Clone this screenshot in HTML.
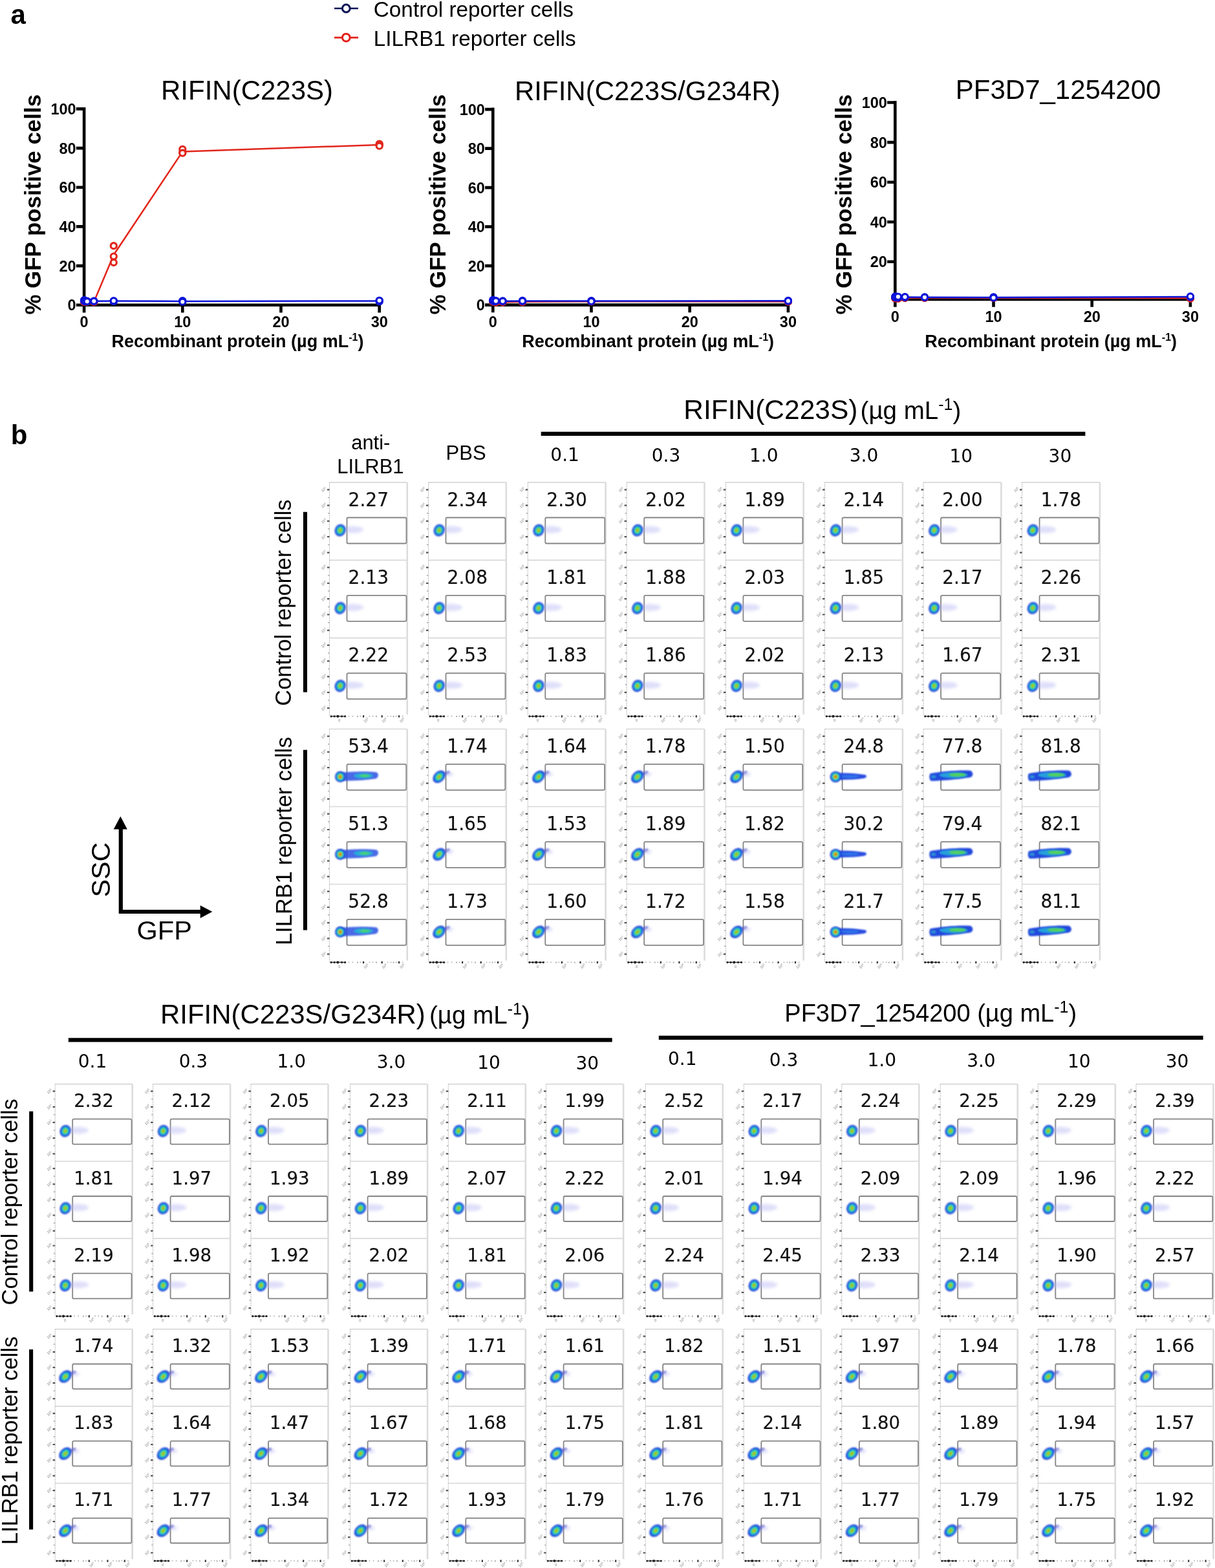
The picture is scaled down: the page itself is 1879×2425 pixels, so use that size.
<!DOCTYPE html>
<html><head><meta charset="utf-8"><title>Figure</title>
<style>html,body{margin:0;padding:0;background:#fff}svg{display:block}
.R{font-family:"Liberation Sans",Arial,sans-serif}
.B{font-family:"Liberation Sans",Arial,sans-serif;font-weight:bold}
.N{font-family:"DejaVu Sans",sans-serif;text-anchor:middle;fill:#111;stroke:#111;stroke-width:.2px}
.H{font-family:"DejaVu Sans",sans-serif;font-size:28px;text-anchor:middle}
.T{font-family:"Liberation Sans",Arial,sans-serif;font-size:5.6px;fill:#808080;text-anchor:end}</style></head>
<body><svg width="1879" height="2425" viewBox="0 0 1879 2425">
<rect width="1879" height="2425" fill="#fff"/>
<defs><filter id="f1" x="-50%" y="-50%" width="200%" height="200%"><feGaussianBlur stdDeviation="0.9"/></filter><filter id="f2" x="-50%" y="-50%" width="200%" height="200%"><feGaussianBlur stdDeviation="2.2"/></filter><filter id="f3" x="-30%" y="-80%" width="160%" height="260%"><feGaussianBlur stdDeviation="1.3"/></filter><g id="bLo"><ellipse cx="19" cy="-1" rx="17" ry="5.5" fill="#b8b8f4" opacity="0.45" filter="url(#f2)"/><g transform="rotate(22)" filter="url(#f1)"><ellipse rx="8.3" ry="9.6" fill="#1a36d0"/><ellipse rx="6.6" ry="7.7" fill="#1f7ae8"/><ellipse rx="5.1" ry="6.0" fill="#22c4c8"/><ellipse rx="3.7" ry="4.3" fill="#52e05a"/><ellipse rx="2.2" ry="2.5" fill="#a8d400"/><ellipse rx="1.0" ry="1.2" fill="#d06a00"/></g></g><g id="bLo2"><ellipse cx="12" cy="-6" rx="5" ry="2.6" fill="#3838c0" opacity="0.55" transform="rotate(-25 12 -6)" filter="url(#f1)"/><ellipse cx="15" cy="-4" rx="7" ry="3.5" fill="#b0b0f0" opacity="0.4" filter="url(#f2)"/><g transform="rotate(-45)" filter="url(#f1)"><ellipse rx="11.0" ry="8.0" fill="#1a36d0"/><ellipse rx="8.8" ry="6.4" fill="#1f7ae8"/><ellipse rx="6.8" ry="5.0" fill="#22c4c8"/><ellipse rx="5.0" ry="3.6" fill="#52e05a"/><ellipse rx="2.9" ry="2.1" fill="#a8d400"/><ellipse rx="1.3" ry="1.0" fill="#d06a00"/></g></g><g id="bMid"><path d="M2,-5.5 C14,-6.5 32,-5.5 46,-3 C49,-1 48,1.5 44,2.5 C30,4.5 14,5 2,4.5Z" fill="#2a4ee0" filter="url(#f3)"/><ellipse cx="22" cy="-0.5" rx="14" ry="2.4" fill="#2f86ee" opacity="0.7" filter="url(#f1)"/><g transform="rotate(0)" filter="url(#f1)"><ellipse rx="8.6" ry="8.6" fill="#1a36d0"/><ellipse rx="7.1" ry="7.1" fill="#1f7ae8"/><ellipse rx="5.7" ry="5.7" fill="#22c4c8"/><ellipse rx="4.3" ry="4.3" fill="#52e05a"/><ellipse rx="2.8" ry="2.8" fill="#e0b000"/><ellipse rx="1.5" ry="1.5" fill="#e04800"/></g></g><g id="bHalf"><path d="M0,-6.5 C16,-8 40,-9 56,-7 C60,-5 60,0.5 55,3 C40,5.5 16,6.5 0,6.5Z" fill="#2a50e2" opacity="0.85" filter="url(#f3)"/><ellipse cx="36" cy="-1.5" rx="15" ry="4" fill="#23b8d8" opacity="0.85" filter="url(#f1)"/><ellipse cx="38" cy="-1.5" rx="8" ry="2.2" fill="#52dc5a" opacity="0.8" filter="url(#f1)"/><g transform="rotate(0)" filter="url(#f1)"><ellipse rx="8.0" ry="8.5" fill="#1a36d0"/><ellipse rx="6.6" ry="7.0" fill="#1f7ae8"/><ellipse rx="5.3" ry="5.6" fill="#22c4c8"/><ellipse rx="4.0" ry="4.2" fill="#52e05a"/><ellipse rx="2.6" ry="2.7" fill="#e0b000"/><ellipse rx="1.4" ry="1.5" fill="#e04800"/></g></g><g id="bHi"><path d="M-6,-5 C10,-8 36,-10.5 56,-9.5 C61,-7 61,-1 56,1 C36,4 10,6.5 -5,6.5 C-8,4 -8,-2 -6,-5Z" fill="#2448dc" filter="url(#f3)"/><ellipse cx="30" cy="-2.5" rx="22" ry="4.6" fill="#25b0dc" opacity="0.85" filter="url(#f1)"/><ellipse cx="36" cy="-3" rx="13" ry="2.8" fill="#58d850" opacity="0.9" filter="url(#f1)"/><ellipse cx="-1" cy="0" rx="4" ry="2.5" fill="#30b0d0" opacity="0.7" filter="url(#f1)"/></g><g id="u1"><path d="M0,0H120.3M0,120.3H120.3M0,240.6H120.3" stroke="#d8d8d8" stroke-width="1.7"/><path d="M120.3,0V358.9" stroke="#dcdcdc" stroke-width="2.6"/><path d="M0,0V360.9" stroke="#a0a0a0" stroke-width="1" stroke-dasharray="1.4 1.4"/><path d="M-3.6,11.2h3.6M-3.6,35.6h3.6M-3.6,59.7h3.6M-3.6,84.1h3.6M-3.6,108.5h3.6M-3.6,131.5h3.6M-3.6,155.9h3.6M-3.6,180h3.6M-3.6,204.4h3.6M-3.6,228.8h3.6M-3.6,251.8h3.6M-3.6,276.2h3.6M-3.6,300.3h3.6M-3.6,324.7h3.6M-3.6,349.1h3.6" stroke="#555" stroke-width="2.2"/><path d="M-2.4,23.4h2.4M-2.4,47.7h2.4M-2.4,72h2.4M-2.4,96.3h2.4M-2.4,143.7h2.4M-2.4,168h2.4M-2.4,192.3h2.4M-2.4,216.6h2.4M-2.4,264h2.4M-2.4,288.3h2.4M-2.4,312.6h2.4M-2.4,336.9h2.4" stroke="#a8a8a8" stroke-width="1.5"/><g fill="none" stroke="#858585" stroke-width="1.8"><rect x="27" y="54.4" width="92" height="40" rx="2"/><rect x="27" y="174.7" width="92" height="40" rx="2"/><rect x="27" y="295" width="92" height="40" rx="2"/></g><path d="M2,361.7H25" stroke="#444" stroke-width="1.4"/><g fill="#222"><circle cx="2.6" cy="361.7" r="1.6"/><circle cx="7.6" cy="361.7" r="1.6"/><circle cx="12.9" cy="361.7" r="2.1"/><circle cx="19.1" cy="361.7" r="1.6"/><circle cx="24.1" cy="361.7" r="1.6"/></g><path d="M52.6,360.1v3.4M81.2,360.1v3.4M107.6,360.1v3.4" stroke="#333" stroke-width="2.2"/><path d="M43.6,360.9v2M72.5,360.9v2M99,360.9v2M30,360.9v1.3M36,360.9v1.3M48,360.9v1.3M62,360.9v1.3M67,360.9v1.3M90,360.9v1.3M95,360.9v1.3M103,360.9v1.3M113,360.9v1.3" stroke="#999" stroke-width="1.6"/></g><g id="u2"><path d="M0,0H120.3M0,120H120.3M0,240H120.3" stroke="#d8d8d8" stroke-width="1.7"/><path d="M120.3,0V358" stroke="#dcdcdc" stroke-width="2.6"/><path d="M0,0V360" stroke="#a0a0a0" stroke-width="1" stroke-dasharray="1.4 1.4"/><path d="M-3.6,11.2h3.6M-3.6,35.5h3.6M-3.6,59.6h3.6M-3.6,83.9h3.6M-3.6,108.2h3.6M-3.6,131.2h3.6M-3.6,155.5h3.6M-3.6,179.6h3.6M-3.6,203.9h3.6M-3.6,228.2h3.6M-3.6,251.2h3.6M-3.6,275.5h3.6M-3.6,299.6h3.6M-3.6,323.9h3.6M-3.6,348.2h3.6" stroke="#555" stroke-width="2.2"/><path d="M-2.4,23.3h2.4M-2.4,47.6h2.4M-2.4,71.8h2.4M-2.4,96.1h2.4M-2.4,143.3h2.4M-2.4,167.6h2.4M-2.4,191.8h2.4M-2.4,216.1h2.4M-2.4,263.3h2.4M-2.4,287.6h2.4M-2.4,311.8h2.4M-2.4,336.1h2.4" stroke="#a8a8a8" stroke-width="1.5"/><g fill="none" stroke="#858585" stroke-width="1.8"><rect x="27" y="54.3" width="91.8" height="40" rx="2"/><rect x="27" y="174.3" width="91.8" height="40" rx="2"/><rect x="27" y="294.3" width="91.8" height="40" rx="2"/></g><path d="M2,360.8H25" stroke="#444" stroke-width="1.4"/><g fill="#222"><circle cx="2.6" cy="360.8" r="1.6"/><circle cx="7.6" cy="360.8" r="1.6"/><circle cx="12.9" cy="360.8" r="2.1"/><circle cx="19.1" cy="360.8" r="1.6"/><circle cx="24.1" cy="360.8" r="1.6"/></g><path d="M52.6,359.2v3.4M81.2,359.2v3.4M107.6,359.2v3.4" stroke="#333" stroke-width="2.2"/><path d="M43.6,360v2M72.5,360v2M99,360v2M30,360v1.3M36,360v1.3M48,360v1.3M62,360v1.3M67,360v1.3M90,360v1.3M95,360v1.3M103,360v1.3M113,360v1.3" stroke="#999" stroke-width="1.6"/></g><g id="l1"><path d="M0,0H119.5M0,119.4H119.5M0,238.8H119.5" stroke="#d8d8d8" stroke-width="1.7"/><path d="M119.5,0V356.2" stroke="#dcdcdc" stroke-width="2.6"/><path d="M0,0V358.2" stroke="#a0a0a0" stroke-width="1" stroke-dasharray="1.4 1.4"/><path d="M-3.6,11.1h3.6M-3.6,35.3h3.6M-3.6,59.3h3.6M-3.6,83.5h3.6M-3.6,107.7h3.6M-3.6,130.5h3.6M-3.6,154.7h3.6M-3.6,178.7h3.6M-3.6,202.9h3.6M-3.6,227.1h3.6M-3.6,249.9h3.6M-3.6,274.1h3.6M-3.6,298.1h3.6M-3.6,322.3h3.6M-3.6,346.5h3.6" stroke="#555" stroke-width="2.2"/><path d="M-2.4,23.2h2.4M-2.4,47.3h2.4M-2.4,71.5h2.4M-2.4,95.6h2.4M-2.4,142.6h2.4M-2.4,166.7h2.4M-2.4,190.9h2.4M-2.4,215h2.4M-2.4,262h2.4M-2.4,286.1h2.4M-2.4,310.3h2.4M-2.4,334.4h2.4" stroke="#a8a8a8" stroke-width="1.5"/><g fill="none" stroke="#858585" stroke-width="1.8"><rect x="27" y="54" width="91.3" height="39" rx="2"/><rect x="27" y="173.4" width="91.3" height="39" rx="2"/><rect x="27" y="292.8" width="91.3" height="39" rx="2"/></g><path d="M2,359H25" stroke="#444" stroke-width="1.4"/><g fill="#222"><circle cx="2.6" cy="359" r="1.6"/><circle cx="7.6" cy="359" r="1.6"/><circle cx="12.9" cy="359" r="2.1"/><circle cx="19.1" cy="359" r="1.6"/><circle cx="24.1" cy="359" r="1.6"/></g><path d="M52.6,357.4v3.4M81.2,357.4v3.4M107.6,357.4v3.4" stroke="#333" stroke-width="2.2"/><path d="M43.6,358.2v2M72.5,358.2v2M99,358.2v2M30,358.2v1.3M36,358.2v1.3M48,358.2v1.3M62,358.2v1.3M67,358.2v1.3M90,358.2v1.3M95,358.2v1.3M103,358.2v1.3M113,358.2v1.3" stroke="#999" stroke-width="1.6"/></g><g id="l2"><path d="M0,0H119.5M0,119.2H119.5M0,238.4H119.5" stroke="#d8d8d8" stroke-width="1.7"/><path d="M119.5,0V355.6" stroke="#dcdcdc" stroke-width="2.6"/><path d="M0,0V357.6" stroke="#a0a0a0" stroke-width="1" stroke-dasharray="1.4 1.4"/><path d="M-3.6,11.1h3.6M-3.6,35.3h3.6M-3.6,59.2h3.6M-3.6,83.3h3.6M-3.6,107.5h3.6M-3.6,130.3h3.6M-3.6,154.5h3.6M-3.6,178.4h3.6M-3.6,202.5h3.6M-3.6,226.7h3.6M-3.6,249.5h3.6M-3.6,273.7h3.6M-3.6,297.6h3.6M-3.6,321.7h3.6M-3.6,345.9h3.6" stroke="#555" stroke-width="2.2"/><path d="M-2.4,23.2h2.4M-2.4,47.3h2.4M-2.4,71.3h2.4M-2.4,95.4h2.4M-2.4,142.4h2.4M-2.4,166.5h2.4M-2.4,190.5h2.4M-2.4,214.6h2.4M-2.4,261.6h2.4M-2.4,285.7h2.4M-2.4,309.7h2.4M-2.4,333.8h2.4" stroke="#a8a8a8" stroke-width="1.5"/><g fill="none" stroke="#858585" stroke-width="1.8"><rect x="27" y="53.9" width="91.2" height="38.6" rx="2"/><rect x="27" y="173.1" width="91.2" height="38.6" rx="2"/><rect x="27" y="292.3" width="91.2" height="38.6" rx="2"/></g><path d="M2,358.4H25" stroke="#444" stroke-width="1.4"/><g fill="#222"><circle cx="2.6" cy="358.4" r="1.6"/><circle cx="7.6" cy="358.4" r="1.6"/><circle cx="12.9" cy="358.4" r="2.1"/><circle cx="19.1" cy="358.4" r="1.6"/><circle cx="24.1" cy="358.4" r="1.6"/></g><path d="M52.6,356.8v3.4M81.2,356.8v3.4M107.6,356.8v3.4" stroke="#333" stroke-width="2.2"/><path d="M43.6,357.6v2M72.5,357.6v2M99,357.6v2M30,357.6v1.3M36,357.6v1.3M48,357.6v1.3M62,357.6v1.3M67,357.6v1.3M90,357.6v1.3M95,357.6v1.3M103,357.6v1.3M113,357.6v1.3" stroke="#999" stroke-width="1.6"/></g></defs>
<text class="B" x="16.5" y="36.6" font-size="42">a</text>
<text class="B" x="16.7" y="686.6" font-size="42">b</text>
<line x1="517" y1="13" x2="554" y2="13" stroke="#0d1456" stroke-width="2.6"/>
<circle cx="535.3" cy="13" r="5.9" fill="#fff" stroke="#0d1456" stroke-width="3"/>
<text class="R" x="577.8" y="25.8" font-size="33.3">Control reporter cells</text>
<line x1="517" y1="58.1" x2="554" y2="58.1" stroke="#e3201b" stroke-width="2.6"/>
<circle cx="535.3" cy="58.1" r="5.9" fill="#fff" stroke="#e3201b" stroke-width="3"/>
<text class="R" x="577.8" y="70.9" font-size="33.3">LILRB1 reporter cells</text>
<text class="R" x="249" y="154" font-size="42">RIFIN(C223S)</text>
<text class="B" transform="translate(62.6,486.6) rotate(-90)" font-size="34.9">% GFP positive cells</text>
<text class="B" x="172.6" y="537" font-size="27">Recombinant protein (µg mL<tspan font-size="16" dy="-10">-1</tspan><tspan dy="10">)</tspan></text>
<path d="M130.1,165.9V483.4M127.6,471.7H589M117.9,471.8H130.1M117.9,411.1H130.1M117.9,350.4H130.1M117.9,289.8H130.1M117.9,229.1H130.1M117.9,168.4H130.1M282.3,471.7V483.4M434.5,471.7V483.4M586.7,471.7V483.4" stroke="#000" stroke-width="4.6" fill="none"/>
<text class="B" x="117.7" y="480.2" font-size="23.5" text-anchor="end">0</text>
<text class="B" x="117.7" y="419.5" font-size="23.5" text-anchor="end">20</text>
<text class="B" x="117.7" y="358.8" font-size="23.5" text-anchor="end">40</text>
<text class="B" x="117.7" y="298.2" font-size="23.5" text-anchor="end">60</text>
<text class="B" x="117.7" y="237.5" font-size="23.5" text-anchor="end">80</text>
<text class="B" x="117.7" y="176.8" font-size="23.5" text-anchor="end">100</text>
<text class="B" x="130.1" y="505.6" font-size="23.5" text-anchor="middle">0</text>
<text class="B" x="282.3" y="505.6" font-size="23.5" text-anchor="middle">10</text>
<text class="B" x="434.5" y="505.6" font-size="23.5" text-anchor="middle">20</text>
<text class="B" x="586.7" y="505.6" font-size="23.5" text-anchor="middle">30</text>
<path d="M130.1,466.6L131.6,467L134.7,466.3L145.3,466.8L175.8,394.2L282.3,234.4L586.7,224" fill="none" stroke="#e2261c" stroke-width="2.5"/>
<g fill="#fff" stroke="#e2261c" stroke-width="3.1"><circle cx="130.1" cy="466.5" r="4.6"/><circle cx="130.1" cy="466.8" r="4.6"/><circle cx="130.1" cy="466.6" r="4.6"/><circle cx="131.6" cy="466.8" r="4.6"/><circle cx="131.6" cy="467.2" r="4.6"/><circle cx="131.6" cy="466.9" r="4.6"/><circle cx="134.7" cy="466.4" r="4.6"/><circle cx="134.7" cy="466.1" r="4.6"/><circle cx="134.7" cy="466.6" r="4.6"/><circle cx="145.3" cy="467.2" r="4.6"/><circle cx="145.3" cy="466.3" r="4.6"/><circle cx="145.3" cy="467" r="4.6"/><circle cx="175.8" cy="396.6" r="4.6"/><circle cx="175.8" cy="380.2" r="4.6"/><circle cx="175.8" cy="406" r="4.6"/><circle cx="282.3" cy="235.8" r="4.6"/><circle cx="282.3" cy="230.9" r="4.6"/><circle cx="282.3" cy="236.7" r="4.6"/><circle cx="586.7" cy="223.6" r="4.6"/><circle cx="586.7" cy="222.7" r="4.6"/><circle cx="586.7" cy="225.7" r="4.6"/></g>
<path d="M130.1,464.8L131.6,465.8L134.7,466L145.3,465.8L175.8,465.6L282.3,465.9L586.7,465.4" fill="none" stroke="#0c14d8" stroke-width="2.5"/>
<g fill="#fff" stroke="#0c14d8" stroke-width="3.1"><circle cx="130.1" cy="464.7" r="4.6"/><circle cx="130.1" cy="465.5" r="4.6"/><circle cx="130.1" cy="464.1" r="4.6"/><circle cx="131.6" cy="464.8" r="4.6"/><circle cx="131.6" cy="466.3" r="4.6"/><circle cx="131.6" cy="466.2" r="4.6"/><circle cx="134.7" cy="465.7" r="4.6"/><circle cx="134.7" cy="466.1" r="4.6"/><circle cx="134.7" cy="466.2" r="4.6"/><circle cx="145.3" cy="466.1" r="4.6"/><circle cx="145.3" cy="465.6" r="4.6"/><circle cx="145.3" cy="465.7" r="4.6"/><circle cx="175.8" cy="465.3" r="4.6"/><circle cx="175.8" cy="466.2" r="4.6"/><circle cx="175.8" cy="465.3" r="4.6"/><circle cx="282.3" cy="465.7" r="4.6"/><circle cx="282.3" cy="465.2" r="4.6"/><circle cx="282.3" cy="466.7" r="4.6"/><circle cx="586.7" cy="466.4" r="4.6"/><circle cx="586.7" cy="464.9" r="4.6"/><circle cx="586.7" cy="464.8" r="4.6"/></g>
<text class="R" x="796" y="154.8" font-size="42">RIFIN(C223S/G234R)</text>
<text class="B" transform="translate(689,486.6) rotate(-90)" font-size="34.9">% GFP positive cells</text>
<text class="B" x="807.3" y="537" font-size="27">Recombinant protein (µg mL<tspan font-size="16" dy="-10">-1</tspan><tspan dy="10">)</tspan></text>
<path d="M762.3,166.6V483.3M759.8,471.6H1221.2M750.1,471.6H762.3M750.1,411.1H762.3M750.1,350.6H762.3M750.1,290.1H762.3M750.1,229.6H762.3M750.1,169.1H762.3M914.5,471.6V483.3M1066.7,471.6V483.3M1218.9,471.6V483.3" stroke="#000" stroke-width="4.6" fill="none"/>
<text class="B" x="749.9" y="480" font-size="23.5" text-anchor="end">0</text>
<text class="B" x="749.9" y="419.5" font-size="23.5" text-anchor="end">20</text>
<text class="B" x="749.9" y="359" font-size="23.5" text-anchor="end">40</text>
<text class="B" x="749.9" y="298.5" font-size="23.5" text-anchor="end">60</text>
<text class="B" x="749.9" y="238" font-size="23.5" text-anchor="end">80</text>
<text class="B" x="749.9" y="177.5" font-size="23.5" text-anchor="end">100</text>
<text class="B" x="762.3" y="505.6" font-size="23.5" text-anchor="middle">0</text>
<text class="B" x="914.5" y="505.6" font-size="23.5" text-anchor="middle">10</text>
<text class="B" x="1066.7" y="505.6" font-size="23.5" text-anchor="middle">20</text>
<text class="B" x="1218.9" y="505.6" font-size="23.5" text-anchor="middle">30</text>
<path d="M762.3,466.4L763.8,466.3L766.9,466.8L777.5,467.2L808,466.8L914.5,466.2L1218.9,466.4" fill="none" stroke="#e2261c" stroke-width="2.5"/>
<g fill="#fff" stroke="#e2261c" stroke-width="3.1"><circle cx="762.3" cy="466.3" r="4.6"/><circle cx="762.3" cy="466.6" r="4.6"/><circle cx="762.3" cy="466.4" r="4.6"/><circle cx="763.8" cy="466.3" r="4.6"/><circle cx="763.8" cy="466.1" r="4.6"/><circle cx="763.8" cy="466.4" r="4.6"/><circle cx="766.9" cy="467.6" r="4.6"/><circle cx="766.9" cy="466.6" r="4.6"/><circle cx="766.9" cy="466.2" r="4.6"/><circle cx="777.5" cy="467" r="4.6"/><circle cx="777.5" cy="467.2" r="4.6"/><circle cx="777.5" cy="467.5" r="4.6"/><circle cx="808" cy="467.4" r="4.6"/><circle cx="808" cy="466.5" r="4.6"/><circle cx="808" cy="466.4" r="4.6"/><circle cx="914.5" cy="466.4" r="4.6"/><circle cx="914.5" cy="466.5" r="4.6"/><circle cx="914.5" cy="465.8" r="4.6"/><circle cx="1218.9" cy="466.7" r="4.6"/><circle cx="1218.9" cy="466.3" r="4.6"/><circle cx="1218.9" cy="466.2" r="4.6"/></g>
<path d="M762.3,464.6L763.8,465.2L766.9,465.5L777.5,465.7L808,465.4L914.5,465.6L1218.9,465.3" fill="none" stroke="#0c14d8" stroke-width="2.5"/>
<g fill="#fff" stroke="#0c14d8" stroke-width="3.1"><circle cx="762.3" cy="464.5" r="4.6"/><circle cx="762.3" cy="465.3" r="4.6"/><circle cx="762.3" cy="463.9" r="4.6"/><circle cx="763.8" cy="464.6" r="4.6"/><circle cx="763.8" cy="466.1" r="4.6"/><circle cx="763.8" cy="465" r="4.6"/><circle cx="766.9" cy="465.2" r="4.6"/><circle cx="766.9" cy="465.6" r="4.6"/><circle cx="766.9" cy="465.6" r="4.6"/><circle cx="777.5" cy="465.4" r="4.6"/><circle cx="777.5" cy="465.8" r="4.6"/><circle cx="777.5" cy="465.8" r="4.6"/><circle cx="808" cy="464.9" r="4.6"/><circle cx="808" cy="465.9" r="4.6"/><circle cx="808" cy="465.5" r="4.6"/><circle cx="914.5" cy="465.2" r="4.6"/><circle cx="914.5" cy="465.3" r="4.6"/><circle cx="914.5" cy="466.1" r="4.6"/><circle cx="1218.9" cy="465.6" r="4.6"/><circle cx="1218.9" cy="464.9" r="4.6"/><circle cx="1218.9" cy="465.4" r="4.6"/></g>
<text class="R" x="1477.8" y="153.4" font-size="42">PF3D7_1254200</text>
<text class="B" transform="translate(1317,486.6) rotate(-90)" font-size="34.9">% GFP positive cells</text>
<text class="B" x="1430.3" y="537.4" font-size="27">Recombinant protein (µg mL<tspan font-size="16" dy="-10">-1</tspan><tspan dy="10">)</tspan></text>
<path d="M1384.3,156V474.7M1381.8,463H1843.2M1372.1,404.8H1384.3M1372.1,343.2H1384.3M1372.1,281.7H1384.3M1372.1,220.1H1384.3M1372.1,158.5H1384.3M1536.5,463V474.7M1688.7,463V474.7M1840.9,463V474.7" stroke="#000" stroke-width="4.6" fill="none"/>
<text class="B" x="1371.9" y="413.2" font-size="23.5" text-anchor="end">20</text>
<text class="B" x="1371.9" y="351.6" font-size="23.5" text-anchor="end">40</text>
<text class="B" x="1371.9" y="290.1" font-size="23.5" text-anchor="end">60</text>
<text class="B" x="1371.9" y="228.5" font-size="23.5" text-anchor="end">80</text>
<text class="B" x="1371.9" y="166.9" font-size="23.5" text-anchor="end">100</text>
<text class="B" x="1384.3" y="497.6" font-size="23.5" text-anchor="middle">0</text>
<text class="B" x="1536.5" y="497.6" font-size="23.5" text-anchor="middle">10</text>
<text class="B" x="1688.7" y="497.6" font-size="23.5" text-anchor="middle">20</text>
<text class="B" x="1840.9" y="497.6" font-size="23.5" text-anchor="middle">30</text>
<path d="M1384.3,461.1L1385.8,460.9L1388.9,460.9L1399.5,460.7L1430,460.6L1536.5,460.8L1840.9,461.1" fill="none" stroke="#e2261c" stroke-width="2.5"/>
<g fill="#fff" stroke="#e2261c" stroke-width="3.1"><circle cx="1384.3" cy="461" r="4.6"/><circle cx="1384.3" cy="461.3" r="4.6"/><circle cx="1384.3" cy="461.1" r="4.6"/><circle cx="1385.8" cy="460.8" r="4.6"/><circle cx="1385.8" cy="460.8" r="4.6"/><circle cx="1385.8" cy="461" r="4.6"/><circle cx="1388.9" cy="461.8" r="4.6"/><circle cx="1388.9" cy="459.8" r="4.6"/><circle cx="1388.9" cy="461.1" r="4.6"/><circle cx="1399.5" cy="460.3" r="4.6"/><circle cx="1399.5" cy="460.9" r="4.6"/><circle cx="1399.5" cy="461" r="4.6"/><circle cx="1430" cy="460.4" r="4.6"/><circle cx="1430" cy="460.6" r="4.6"/><circle cx="1430" cy="460.9" r="4.6"/><circle cx="1536.5" cy="460.9" r="4.6"/><circle cx="1536.5" cy="460.4" r="4.6"/><circle cx="1536.5" cy="461" r="4.6"/><circle cx="1840.9" cy="461.3" r="4.6"/><circle cx="1840.9" cy="461.6" r="4.6"/><circle cx="1840.9" cy="460.5" r="4.6"/></g>
<path d="M1384.3,459.3L1385.8,459.5L1388.9,459.7L1399.5,459.6L1430,459.7L1536.5,460.1L1840.9,459" fill="none" stroke="#0c14d8" stroke-width="2.5"/>
<g fill="#fff" stroke="#0c14d8" stroke-width="3.1"><circle cx="1384.3" cy="459.2" r="4.6"/><circle cx="1384.3" cy="460" r="4.6"/><circle cx="1384.3" cy="458.6" r="4.6"/><circle cx="1385.8" cy="458.6" r="4.6"/><circle cx="1385.8" cy="460.2" r="4.6"/><circle cx="1385.8" cy="459.5" r="4.6"/><circle cx="1388.9" cy="459.7" r="4.6"/><circle cx="1388.9" cy="460.4" r="4.6"/><circle cx="1388.9" cy="458.9" r="4.6"/><circle cx="1399.5" cy="459.5" r="4.6"/><circle cx="1399.5" cy="460" r="4.6"/><circle cx="1399.5" cy="459.2" r="4.6"/><circle cx="1430" cy="459.5" r="4.6"/><circle cx="1430" cy="460" r="4.6"/><circle cx="1430" cy="459.8" r="4.6"/><circle cx="1536.5" cy="459.3" r="4.6"/><circle cx="1536.5" cy="460.4" r="4.6"/><circle cx="1536.5" cy="460.5" r="4.6"/><circle cx="1840.9" cy="459" r="4.6"/><circle cx="1840.9" cy="459.6" r="4.6"/><circle cx="1840.9" cy="458.5" r="4.6"/></g>
<use href="#u1" x="509.5" y="746.1"/>
<use href="#u1" x="662.5" y="746.1"/>
<use href="#u1" x="816.3" y="746.1"/>
<use href="#u1" x="969.2" y="746.1"/>
<use href="#u1" x="1122.4" y="746.1"/>
<use href="#u1" x="1275.6" y="746.1"/>
<use href="#u1" x="1428.1" y="746.1"/>
<use href="#u1" x="1580.6" y="746.1"/>
<use href="#bLo" x="526.1" y="820.1"/>
<use href="#bLo" x="526.1" y="940.4"/>
<use href="#bLo" x="526.1" y="1060.7"/>
<use href="#bLo" x="679.1" y="820.1"/>
<use href="#bLo" x="679.1" y="940.4"/>
<use href="#bLo" x="679.1" y="1060.7"/>
<use href="#bLo" x="832.9" y="820.1"/>
<use href="#bLo" x="832.9" y="940.4"/>
<use href="#bLo" x="832.9" y="1060.7"/>
<use href="#bLo" x="985.8" y="820.1"/>
<use href="#bLo" x="985.8" y="940.4"/>
<use href="#bLo" x="985.8" y="1060.7"/>
<use href="#bLo" x="1139" y="820.1"/>
<use href="#bLo" x="1139" y="940.4"/>
<use href="#bLo" x="1139" y="1060.7"/>
<use href="#bLo" x="1292.2" y="820.1"/>
<use href="#bLo" x="1292.2" y="940.4"/>
<use href="#bLo" x="1292.2" y="1060.7"/>
<use href="#bLo" x="1444.7" y="820.1"/>
<use href="#bLo" x="1444.7" y="940.4"/>
<use href="#bLo" x="1444.7" y="1060.7"/>
<use href="#bLo" x="1597.2" y="820.1"/>
<use href="#bLo" x="1597.2" y="940.4"/>
<use href="#bLo" x="1597.2" y="1060.7"/>
<text class="N" x="569.8" y="782.7" font-size="29.6" textLength="62.5" lengthAdjust="spacingAndGlyphs">2.27</text>
<text class="N" x="569.8" y="903" font-size="29.6" textLength="62.5" lengthAdjust="spacingAndGlyphs">2.13</text>
<text class="N" x="569.8" y="1023.3" font-size="29.6" textLength="62.5" lengthAdjust="spacingAndGlyphs">2.22</text>
<text class="N" x="722.8" y="782.7" font-size="29.6" textLength="62.5" lengthAdjust="spacingAndGlyphs">2.34</text>
<text class="N" x="722.8" y="903" font-size="29.6" textLength="62.5" lengthAdjust="spacingAndGlyphs">2.08</text>
<text class="N" x="722.8" y="1023.3" font-size="29.6" textLength="62.5" lengthAdjust="spacingAndGlyphs">2.53</text>
<text class="N" x="876.6" y="782.7" font-size="29.6" textLength="62.5" lengthAdjust="spacingAndGlyphs">2.30</text>
<text class="N" x="876.6" y="903" font-size="29.6" textLength="62.5" lengthAdjust="spacingAndGlyphs">1.81</text>
<text class="N" x="876.6" y="1023.3" font-size="29.6" textLength="62.5" lengthAdjust="spacingAndGlyphs">1.83</text>
<text class="N" x="1029.5" y="782.7" font-size="29.6" textLength="62.5" lengthAdjust="spacingAndGlyphs">2.02</text>
<text class="N" x="1029.5" y="903" font-size="29.6" textLength="62.5" lengthAdjust="spacingAndGlyphs">1.88</text>
<text class="N" x="1029.5" y="1023.3" font-size="29.6" textLength="62.5" lengthAdjust="spacingAndGlyphs">1.86</text>
<text class="N" x="1182.7" y="782.7" font-size="29.6" textLength="62.5" lengthAdjust="spacingAndGlyphs">1.89</text>
<text class="N" x="1182.7" y="903" font-size="29.6" textLength="62.5" lengthAdjust="spacingAndGlyphs">2.03</text>
<text class="N" x="1182.7" y="1023.3" font-size="29.6" textLength="62.5" lengthAdjust="spacingAndGlyphs">2.02</text>
<text class="N" x="1335.9" y="782.7" font-size="29.6" textLength="62.5" lengthAdjust="spacingAndGlyphs">2.14</text>
<text class="N" x="1335.9" y="903" font-size="29.6" textLength="62.5" lengthAdjust="spacingAndGlyphs">1.85</text>
<text class="N" x="1335.9" y="1023.3" font-size="29.6" textLength="62.5" lengthAdjust="spacingAndGlyphs">2.13</text>
<text class="N" x="1488.4" y="782.7" font-size="29.6" textLength="62.5" lengthAdjust="spacingAndGlyphs">2.00</text>
<text class="N" x="1488.4" y="903" font-size="29.6" textLength="62.5" lengthAdjust="spacingAndGlyphs">2.17</text>
<text class="N" x="1488.4" y="1023.3" font-size="29.6" textLength="62.5" lengthAdjust="spacingAndGlyphs">1.67</text>
<text class="N" x="1640.9" y="782.7" font-size="29.6" textLength="62.5" lengthAdjust="spacingAndGlyphs">1.78</text>
<text class="N" x="1640.9" y="903" font-size="29.6" textLength="62.5" lengthAdjust="spacingAndGlyphs">2.26</text>
<text class="N" x="1640.9" y="1023.3" font-size="29.6" textLength="62.5" lengthAdjust="spacingAndGlyphs">2.31</text>
<text class="T" transform="translate(505.2,756.1)rotate(-40)">10<tspan dy="-2" font-size="4">5</tspan></text>
<text class="T" transform="translate(505.2,780.5)rotate(-40)">10<tspan dy="-2" font-size="4">4</tspan></text>
<text class="T" transform="translate(505.2,804.6)rotate(-40)">10<tspan dy="-2" font-size="4">3</tspan></text>
<text class="T" transform="translate(505.2,829)rotate(-40)">10<tspan dy="-2" font-size="4">2</tspan></text>
<text class="T" transform="translate(505.2,853.4)rotate(-40)">10<tspan dy="-2" font-size="4">1</tspan></text>
<text class="T" transform="translate(505.2,876.4)rotate(-40)">10<tspan dy="-2" font-size="4">5</tspan></text>
<text class="T" transform="translate(505.2,900.8)rotate(-40)">10<tspan dy="-2" font-size="4">4</tspan></text>
<text class="T" transform="translate(505.2,924.9)rotate(-40)">10<tspan dy="-2" font-size="4">3</tspan></text>
<text class="T" transform="translate(505.2,949.3)rotate(-40)">10<tspan dy="-2" font-size="4">2</tspan></text>
<text class="T" transform="translate(505.2,973.7)rotate(-40)">10<tspan dy="-2" font-size="4">1</tspan></text>
<text class="T" transform="translate(505.2,996.7)rotate(-40)">10<tspan dy="-2" font-size="4">5</tspan></text>
<text class="T" transform="translate(505.2,1021.1)rotate(-40)">10<tspan dy="-2" font-size="4">4</tspan></text>
<text class="T" transform="translate(505.2,1045.2)rotate(-40)">10<tspan dy="-2" font-size="4">3</tspan></text>
<text class="T" transform="translate(505.2,1069.6)rotate(-40)">10<tspan dy="-2" font-size="4">2</tspan></text>
<text class="T" transform="translate(505.2,1094)rotate(-40)">10<tspan dy="-2" font-size="4">1</tspan></text>
<text class="T" x="526.3" y="1116">0</text>
<text class="T" transform="translate(570.8,1112.6)rotate(-40)">10<tspan dy="-2" font-size="4">3</tspan></text>
<text class="T" transform="translate(599.1,1112.6)rotate(-40)">10<tspan dy="-2" font-size="4">4</tspan></text>
<text class="T" transform="translate(626.4,1112.6)rotate(-40)">10<tspan dy="-2" font-size="4">5</tspan></text>
<text class="T" transform="translate(658.2,756.1)rotate(-40)">10<tspan dy="-2" font-size="4">5</tspan></text>
<text class="T" transform="translate(658.2,780.5)rotate(-40)">10<tspan dy="-2" font-size="4">4</tspan></text>
<text class="T" transform="translate(658.2,804.6)rotate(-40)">10<tspan dy="-2" font-size="4">3</tspan></text>
<text class="T" transform="translate(658.2,829)rotate(-40)">10<tspan dy="-2" font-size="4">2</tspan></text>
<text class="T" transform="translate(658.2,853.4)rotate(-40)">10<tspan dy="-2" font-size="4">1</tspan></text>
<text class="T" transform="translate(658.2,876.4)rotate(-40)">10<tspan dy="-2" font-size="4">5</tspan></text>
<text class="T" transform="translate(658.2,900.8)rotate(-40)">10<tspan dy="-2" font-size="4">4</tspan></text>
<text class="T" transform="translate(658.2,924.9)rotate(-40)">10<tspan dy="-2" font-size="4">3</tspan></text>
<text class="T" transform="translate(658.2,949.3)rotate(-40)">10<tspan dy="-2" font-size="4">2</tspan></text>
<text class="T" transform="translate(658.2,973.7)rotate(-40)">10<tspan dy="-2" font-size="4">1</tspan></text>
<text class="T" transform="translate(658.2,996.7)rotate(-40)">10<tspan dy="-2" font-size="4">5</tspan></text>
<text class="T" transform="translate(658.2,1021.1)rotate(-40)">10<tspan dy="-2" font-size="4">4</tspan></text>
<text class="T" transform="translate(658.2,1045.2)rotate(-40)">10<tspan dy="-2" font-size="4">3</tspan></text>
<text class="T" transform="translate(658.2,1069.6)rotate(-40)">10<tspan dy="-2" font-size="4">2</tspan></text>
<text class="T" transform="translate(658.2,1094)rotate(-40)">10<tspan dy="-2" font-size="4">1</tspan></text>
<text class="T" x="679.3" y="1116">0</text>
<text class="T" transform="translate(723.8,1112.6)rotate(-40)">10<tspan dy="-2" font-size="4">3</tspan></text>
<text class="T" transform="translate(752.1,1112.6)rotate(-40)">10<tspan dy="-2" font-size="4">4</tspan></text>
<text class="T" transform="translate(779.4,1112.6)rotate(-40)">10<tspan dy="-2" font-size="4">5</tspan></text>
<text class="T" transform="translate(812,756.1)rotate(-40)">10<tspan dy="-2" font-size="4">5</tspan></text>
<text class="T" transform="translate(812,780.5)rotate(-40)">10<tspan dy="-2" font-size="4">4</tspan></text>
<text class="T" transform="translate(812,804.6)rotate(-40)">10<tspan dy="-2" font-size="4">3</tspan></text>
<text class="T" transform="translate(812,829)rotate(-40)">10<tspan dy="-2" font-size="4">2</tspan></text>
<text class="T" transform="translate(812,853.4)rotate(-40)">10<tspan dy="-2" font-size="4">1</tspan></text>
<text class="T" transform="translate(812,876.4)rotate(-40)">10<tspan dy="-2" font-size="4">5</tspan></text>
<text class="T" transform="translate(812,900.8)rotate(-40)">10<tspan dy="-2" font-size="4">4</tspan></text>
<text class="T" transform="translate(812,924.9)rotate(-40)">10<tspan dy="-2" font-size="4">3</tspan></text>
<text class="T" transform="translate(812,949.3)rotate(-40)">10<tspan dy="-2" font-size="4">2</tspan></text>
<text class="T" transform="translate(812,973.7)rotate(-40)">10<tspan dy="-2" font-size="4">1</tspan></text>
<text class="T" transform="translate(812,996.7)rotate(-40)">10<tspan dy="-2" font-size="4">5</tspan></text>
<text class="T" transform="translate(812,1021.1)rotate(-40)">10<tspan dy="-2" font-size="4">4</tspan></text>
<text class="T" transform="translate(812,1045.2)rotate(-40)">10<tspan dy="-2" font-size="4">3</tspan></text>
<text class="T" transform="translate(812,1069.6)rotate(-40)">10<tspan dy="-2" font-size="4">2</tspan></text>
<text class="T" transform="translate(812,1094)rotate(-40)">10<tspan dy="-2" font-size="4">1</tspan></text>
<text class="T" x="833.1" y="1116">0</text>
<text class="T" transform="translate(877.6,1112.6)rotate(-40)">10<tspan dy="-2" font-size="4">3</tspan></text>
<text class="T" transform="translate(905.9,1112.6)rotate(-40)">10<tspan dy="-2" font-size="4">4</tspan></text>
<text class="T" transform="translate(933.2,1112.6)rotate(-40)">10<tspan dy="-2" font-size="4">5</tspan></text>
<text class="T" transform="translate(964.9,756.1)rotate(-40)">10<tspan dy="-2" font-size="4">5</tspan></text>
<text class="T" transform="translate(964.9,780.5)rotate(-40)">10<tspan dy="-2" font-size="4">4</tspan></text>
<text class="T" transform="translate(964.9,804.6)rotate(-40)">10<tspan dy="-2" font-size="4">3</tspan></text>
<text class="T" transform="translate(964.9,829)rotate(-40)">10<tspan dy="-2" font-size="4">2</tspan></text>
<text class="T" transform="translate(964.9,853.4)rotate(-40)">10<tspan dy="-2" font-size="4">1</tspan></text>
<text class="T" transform="translate(964.9,876.4)rotate(-40)">10<tspan dy="-2" font-size="4">5</tspan></text>
<text class="T" transform="translate(964.9,900.8)rotate(-40)">10<tspan dy="-2" font-size="4">4</tspan></text>
<text class="T" transform="translate(964.9,924.9)rotate(-40)">10<tspan dy="-2" font-size="4">3</tspan></text>
<text class="T" transform="translate(964.9,949.3)rotate(-40)">10<tspan dy="-2" font-size="4">2</tspan></text>
<text class="T" transform="translate(964.9,973.7)rotate(-40)">10<tspan dy="-2" font-size="4">1</tspan></text>
<text class="T" transform="translate(964.9,996.7)rotate(-40)">10<tspan dy="-2" font-size="4">5</tspan></text>
<text class="T" transform="translate(964.9,1021.1)rotate(-40)">10<tspan dy="-2" font-size="4">4</tspan></text>
<text class="T" transform="translate(964.9,1045.2)rotate(-40)">10<tspan dy="-2" font-size="4">3</tspan></text>
<text class="T" transform="translate(964.9,1069.6)rotate(-40)">10<tspan dy="-2" font-size="4">2</tspan></text>
<text class="T" transform="translate(964.9,1094)rotate(-40)">10<tspan dy="-2" font-size="4">1</tspan></text>
<text class="T" x="986" y="1116">0</text>
<text class="T" transform="translate(1030.5,1112.6)rotate(-40)">10<tspan dy="-2" font-size="4">3</tspan></text>
<text class="T" transform="translate(1058.8,1112.6)rotate(-40)">10<tspan dy="-2" font-size="4">4</tspan></text>
<text class="T" transform="translate(1086.1,1112.6)rotate(-40)">10<tspan dy="-2" font-size="4">5</tspan></text>
<text class="T" transform="translate(1118.1,756.1)rotate(-40)">10<tspan dy="-2" font-size="4">5</tspan></text>
<text class="T" transform="translate(1118.1,780.5)rotate(-40)">10<tspan dy="-2" font-size="4">4</tspan></text>
<text class="T" transform="translate(1118.1,804.6)rotate(-40)">10<tspan dy="-2" font-size="4">3</tspan></text>
<text class="T" transform="translate(1118.1,829)rotate(-40)">10<tspan dy="-2" font-size="4">2</tspan></text>
<text class="T" transform="translate(1118.1,853.4)rotate(-40)">10<tspan dy="-2" font-size="4">1</tspan></text>
<text class="T" transform="translate(1118.1,876.4)rotate(-40)">10<tspan dy="-2" font-size="4">5</tspan></text>
<text class="T" transform="translate(1118.1,900.8)rotate(-40)">10<tspan dy="-2" font-size="4">4</tspan></text>
<text class="T" transform="translate(1118.1,924.9)rotate(-40)">10<tspan dy="-2" font-size="4">3</tspan></text>
<text class="T" transform="translate(1118.1,949.3)rotate(-40)">10<tspan dy="-2" font-size="4">2</tspan></text>
<text class="T" transform="translate(1118.1,973.7)rotate(-40)">10<tspan dy="-2" font-size="4">1</tspan></text>
<text class="T" transform="translate(1118.1,996.7)rotate(-40)">10<tspan dy="-2" font-size="4">5</tspan></text>
<text class="T" transform="translate(1118.1,1021.1)rotate(-40)">10<tspan dy="-2" font-size="4">4</tspan></text>
<text class="T" transform="translate(1118.1,1045.2)rotate(-40)">10<tspan dy="-2" font-size="4">3</tspan></text>
<text class="T" transform="translate(1118.1,1069.6)rotate(-40)">10<tspan dy="-2" font-size="4">2</tspan></text>
<text class="T" transform="translate(1118.1,1094)rotate(-40)">10<tspan dy="-2" font-size="4">1</tspan></text>
<text class="T" x="1139.2" y="1116">0</text>
<text class="T" transform="translate(1183.7,1112.6)rotate(-40)">10<tspan dy="-2" font-size="4">3</tspan></text>
<text class="T" transform="translate(1212,1112.6)rotate(-40)">10<tspan dy="-2" font-size="4">4</tspan></text>
<text class="T" transform="translate(1239.3,1112.6)rotate(-40)">10<tspan dy="-2" font-size="4">5</tspan></text>
<text class="T" transform="translate(1271.3,756.1)rotate(-40)">10<tspan dy="-2" font-size="4">5</tspan></text>
<text class="T" transform="translate(1271.3,780.5)rotate(-40)">10<tspan dy="-2" font-size="4">4</tspan></text>
<text class="T" transform="translate(1271.3,804.6)rotate(-40)">10<tspan dy="-2" font-size="4">3</tspan></text>
<text class="T" transform="translate(1271.3,829)rotate(-40)">10<tspan dy="-2" font-size="4">2</tspan></text>
<text class="T" transform="translate(1271.3,853.4)rotate(-40)">10<tspan dy="-2" font-size="4">1</tspan></text>
<text class="T" transform="translate(1271.3,876.4)rotate(-40)">10<tspan dy="-2" font-size="4">5</tspan></text>
<text class="T" transform="translate(1271.3,900.8)rotate(-40)">10<tspan dy="-2" font-size="4">4</tspan></text>
<text class="T" transform="translate(1271.3,924.9)rotate(-40)">10<tspan dy="-2" font-size="4">3</tspan></text>
<text class="T" transform="translate(1271.3,949.3)rotate(-40)">10<tspan dy="-2" font-size="4">2</tspan></text>
<text class="T" transform="translate(1271.3,973.7)rotate(-40)">10<tspan dy="-2" font-size="4">1</tspan></text>
<text class="T" transform="translate(1271.3,996.7)rotate(-40)">10<tspan dy="-2" font-size="4">5</tspan></text>
<text class="T" transform="translate(1271.3,1021.1)rotate(-40)">10<tspan dy="-2" font-size="4">4</tspan></text>
<text class="T" transform="translate(1271.3,1045.2)rotate(-40)">10<tspan dy="-2" font-size="4">3</tspan></text>
<text class="T" transform="translate(1271.3,1069.6)rotate(-40)">10<tspan dy="-2" font-size="4">2</tspan></text>
<text class="T" transform="translate(1271.3,1094)rotate(-40)">10<tspan dy="-2" font-size="4">1</tspan></text>
<text class="T" x="1292.4" y="1116">0</text>
<text class="T" transform="translate(1336.9,1112.6)rotate(-40)">10<tspan dy="-2" font-size="4">3</tspan></text>
<text class="T" transform="translate(1365.2,1112.6)rotate(-40)">10<tspan dy="-2" font-size="4">4</tspan></text>
<text class="T" transform="translate(1392.5,1112.6)rotate(-40)">10<tspan dy="-2" font-size="4">5</tspan></text>
<text class="T" transform="translate(1423.8,756.1)rotate(-40)">10<tspan dy="-2" font-size="4">5</tspan></text>
<text class="T" transform="translate(1423.8,780.5)rotate(-40)">10<tspan dy="-2" font-size="4">4</tspan></text>
<text class="T" transform="translate(1423.8,804.6)rotate(-40)">10<tspan dy="-2" font-size="4">3</tspan></text>
<text class="T" transform="translate(1423.8,829)rotate(-40)">10<tspan dy="-2" font-size="4">2</tspan></text>
<text class="T" transform="translate(1423.8,853.4)rotate(-40)">10<tspan dy="-2" font-size="4">1</tspan></text>
<text class="T" transform="translate(1423.8,876.4)rotate(-40)">10<tspan dy="-2" font-size="4">5</tspan></text>
<text class="T" transform="translate(1423.8,900.8)rotate(-40)">10<tspan dy="-2" font-size="4">4</tspan></text>
<text class="T" transform="translate(1423.8,924.9)rotate(-40)">10<tspan dy="-2" font-size="4">3</tspan></text>
<text class="T" transform="translate(1423.8,949.3)rotate(-40)">10<tspan dy="-2" font-size="4">2</tspan></text>
<text class="T" transform="translate(1423.8,973.7)rotate(-40)">10<tspan dy="-2" font-size="4">1</tspan></text>
<text class="T" transform="translate(1423.8,996.7)rotate(-40)">10<tspan dy="-2" font-size="4">5</tspan></text>
<text class="T" transform="translate(1423.8,1021.1)rotate(-40)">10<tspan dy="-2" font-size="4">4</tspan></text>
<text class="T" transform="translate(1423.8,1045.2)rotate(-40)">10<tspan dy="-2" font-size="4">3</tspan></text>
<text class="T" transform="translate(1423.8,1069.6)rotate(-40)">10<tspan dy="-2" font-size="4">2</tspan></text>
<text class="T" transform="translate(1423.8,1094)rotate(-40)">10<tspan dy="-2" font-size="4">1</tspan></text>
<text class="T" x="1444.9" y="1116">0</text>
<text class="T" transform="translate(1489.4,1112.6)rotate(-40)">10<tspan dy="-2" font-size="4">3</tspan></text>
<text class="T" transform="translate(1517.7,1112.6)rotate(-40)">10<tspan dy="-2" font-size="4">4</tspan></text>
<text class="T" transform="translate(1545,1112.6)rotate(-40)">10<tspan dy="-2" font-size="4">5</tspan></text>
<text class="T" transform="translate(1576.3,756.1)rotate(-40)">10<tspan dy="-2" font-size="4">5</tspan></text>
<text class="T" transform="translate(1576.3,780.5)rotate(-40)">10<tspan dy="-2" font-size="4">4</tspan></text>
<text class="T" transform="translate(1576.3,804.6)rotate(-40)">10<tspan dy="-2" font-size="4">3</tspan></text>
<text class="T" transform="translate(1576.3,829)rotate(-40)">10<tspan dy="-2" font-size="4">2</tspan></text>
<text class="T" transform="translate(1576.3,853.4)rotate(-40)">10<tspan dy="-2" font-size="4">1</tspan></text>
<text class="T" transform="translate(1576.3,876.4)rotate(-40)">10<tspan dy="-2" font-size="4">5</tspan></text>
<text class="T" transform="translate(1576.3,900.8)rotate(-40)">10<tspan dy="-2" font-size="4">4</tspan></text>
<text class="T" transform="translate(1576.3,924.9)rotate(-40)">10<tspan dy="-2" font-size="4">3</tspan></text>
<text class="T" transform="translate(1576.3,949.3)rotate(-40)">10<tspan dy="-2" font-size="4">2</tspan></text>
<text class="T" transform="translate(1576.3,973.7)rotate(-40)">10<tspan dy="-2" font-size="4">1</tspan></text>
<text class="T" transform="translate(1576.3,996.7)rotate(-40)">10<tspan dy="-2" font-size="4">5</tspan></text>
<text class="T" transform="translate(1576.3,1021.1)rotate(-40)">10<tspan dy="-2" font-size="4">4</tspan></text>
<text class="T" transform="translate(1576.3,1045.2)rotate(-40)">10<tspan dy="-2" font-size="4">3</tspan></text>
<text class="T" transform="translate(1576.3,1069.6)rotate(-40)">10<tspan dy="-2" font-size="4">2</tspan></text>
<text class="T" transform="translate(1576.3,1094)rotate(-40)">10<tspan dy="-2" font-size="4">1</tspan></text>
<text class="T" x="1597.4" y="1116">0</text>
<text class="T" transform="translate(1641.9,1112.6)rotate(-40)">10<tspan dy="-2" font-size="4">3</tspan></text>
<text class="T" transform="translate(1670.2,1112.6)rotate(-40)">10<tspan dy="-2" font-size="4">4</tspan></text>
<text class="T" transform="translate(1697.5,1112.6)rotate(-40)">10<tspan dy="-2" font-size="4">5</tspan></text>
<use href="#u2" x="509.5" y="1127.5"/>
<use href="#u2" x="662.5" y="1127.5"/>
<use href="#u2" x="816.3" y="1127.5"/>
<use href="#u2" x="969.2" y="1127.5"/>
<use href="#u2" x="1122.4" y="1127.5"/>
<use href="#u2" x="1275.6" y="1127.5"/>
<use href="#u2" x="1428.1" y="1127.5"/>
<use href="#u2" x="1580.6" y="1127.5"/>
<use href="#bHalf" x="526.1" y="1201.3"/>
<use href="#bHalf" x="526.1" y="1321.3"/>
<use href="#bHalf" x="526.1" y="1441.3"/>
<use href="#bLo2" x="679.1" y="1201.3"/>
<use href="#bLo2" x="679.1" y="1321.3"/>
<use href="#bLo2" x="679.1" y="1441.3"/>
<use href="#bLo2" x="832.9" y="1201.3"/>
<use href="#bLo2" x="832.9" y="1321.3"/>
<use href="#bLo2" x="832.9" y="1441.3"/>
<use href="#bLo2" x="985.8" y="1201.3"/>
<use href="#bLo2" x="985.8" y="1321.3"/>
<use href="#bLo2" x="985.8" y="1441.3"/>
<use href="#bLo2" x="1139" y="1201.3"/>
<use href="#bLo2" x="1139" y="1321.3"/>
<use href="#bLo2" x="1139" y="1441.3"/>
<use href="#bMid" x="1292.2" y="1201.3"/>
<use href="#bMid" x="1292.2" y="1321.3"/>
<use href="#bMid" x="1292.2" y="1441.3"/>
<use href="#bHi" x="1444.7" y="1201.3"/>
<use href="#bHi" x="1444.7" y="1321.3"/>
<use href="#bHi" x="1444.7" y="1441.3"/>
<use href="#bHi" x="1597.2" y="1201.3"/>
<use href="#bHi" x="1597.2" y="1321.3"/>
<use href="#bHi" x="1597.2" y="1441.3"/>
<text class="N" x="569.6" y="1164" font-size="29.6" textLength="62.5" lengthAdjust="spacingAndGlyphs">53.4</text>
<text class="N" x="569.6" y="1284" font-size="29.6" textLength="62.5" lengthAdjust="spacingAndGlyphs">51.3</text>
<text class="N" x="569.6" y="1404" font-size="29.6" textLength="62.5" lengthAdjust="spacingAndGlyphs">52.8</text>
<text class="N" x="722.6" y="1164" font-size="29.6" textLength="62.5" lengthAdjust="spacingAndGlyphs">1.74</text>
<text class="N" x="722.6" y="1284" font-size="29.6" textLength="62.5" lengthAdjust="spacingAndGlyphs">1.65</text>
<text class="N" x="722.6" y="1404" font-size="29.6" textLength="62.5" lengthAdjust="spacingAndGlyphs">1.73</text>
<text class="N" x="876.4" y="1164" font-size="29.6" textLength="62.5" lengthAdjust="spacingAndGlyphs">1.64</text>
<text class="N" x="876.4" y="1284" font-size="29.6" textLength="62.5" lengthAdjust="spacingAndGlyphs">1.53</text>
<text class="N" x="876.4" y="1404" font-size="29.6" textLength="62.5" lengthAdjust="spacingAndGlyphs">1.60</text>
<text class="N" x="1029.3" y="1164" font-size="29.6" textLength="62.5" lengthAdjust="spacingAndGlyphs">1.78</text>
<text class="N" x="1029.3" y="1284" font-size="29.6" textLength="62.5" lengthAdjust="spacingAndGlyphs">1.89</text>
<text class="N" x="1029.3" y="1404" font-size="29.6" textLength="62.5" lengthAdjust="spacingAndGlyphs">1.72</text>
<text class="N" x="1182.5" y="1164" font-size="29.6" textLength="62.5" lengthAdjust="spacingAndGlyphs">1.50</text>
<text class="N" x="1182.5" y="1284" font-size="29.6" textLength="62.5" lengthAdjust="spacingAndGlyphs">1.82</text>
<text class="N" x="1182.5" y="1404" font-size="29.6" textLength="62.5" lengthAdjust="spacingAndGlyphs">1.58</text>
<text class="N" x="1335.7" y="1164" font-size="29.6" textLength="62.5" lengthAdjust="spacingAndGlyphs">24.8</text>
<text class="N" x="1335.7" y="1284" font-size="29.6" textLength="62.5" lengthAdjust="spacingAndGlyphs">30.2</text>
<text class="N" x="1335.7" y="1404" font-size="29.6" textLength="62.5" lengthAdjust="spacingAndGlyphs">21.7</text>
<text class="N" x="1488.2" y="1164" font-size="29.6" textLength="62.5" lengthAdjust="spacingAndGlyphs">77.8</text>
<text class="N" x="1488.2" y="1284" font-size="29.6" textLength="62.5" lengthAdjust="spacingAndGlyphs">79.4</text>
<text class="N" x="1488.2" y="1404" font-size="29.6" textLength="62.5" lengthAdjust="spacingAndGlyphs">77.5</text>
<text class="N" x="1640.7" y="1164" font-size="29.6" textLength="62.5" lengthAdjust="spacingAndGlyphs">81.8</text>
<text class="N" x="1640.7" y="1284" font-size="29.6" textLength="62.5" lengthAdjust="spacingAndGlyphs">82.1</text>
<text class="N" x="1640.7" y="1404" font-size="29.6" textLength="62.5" lengthAdjust="spacingAndGlyphs">81.1</text>
<text class="T" transform="translate(505.2,1137.5)rotate(-40)">10<tspan dy="-2" font-size="4">5</tspan></text>
<text class="T" transform="translate(505.2,1161.8)rotate(-40)">10<tspan dy="-2" font-size="4">4</tspan></text>
<text class="T" transform="translate(505.2,1185.9)rotate(-40)">10<tspan dy="-2" font-size="4">3</tspan></text>
<text class="T" transform="translate(505.2,1210.2)rotate(-40)">10<tspan dy="-2" font-size="4">2</tspan></text>
<text class="T" transform="translate(505.2,1234.5)rotate(-40)">10<tspan dy="-2" font-size="4">1</tspan></text>
<text class="T" transform="translate(505.2,1257.5)rotate(-40)">10<tspan dy="-2" font-size="4">5</tspan></text>
<text class="T" transform="translate(505.2,1281.8)rotate(-40)">10<tspan dy="-2" font-size="4">4</tspan></text>
<text class="T" transform="translate(505.2,1305.9)rotate(-40)">10<tspan dy="-2" font-size="4">3</tspan></text>
<text class="T" transform="translate(505.2,1330.2)rotate(-40)">10<tspan dy="-2" font-size="4">2</tspan></text>
<text class="T" transform="translate(505.2,1354.5)rotate(-40)">10<tspan dy="-2" font-size="4">1</tspan></text>
<text class="T" transform="translate(505.2,1377.5)rotate(-40)">10<tspan dy="-2" font-size="4">5</tspan></text>
<text class="T" transform="translate(505.2,1401.8)rotate(-40)">10<tspan dy="-2" font-size="4">4</tspan></text>
<text class="T" transform="translate(505.2,1425.9)rotate(-40)">10<tspan dy="-2" font-size="4">3</tspan></text>
<text class="T" transform="translate(505.2,1450.2)rotate(-40)">10<tspan dy="-2" font-size="4">2</tspan></text>
<text class="T" transform="translate(505.2,1474.5)rotate(-40)">10<tspan dy="-2" font-size="4">1</tspan></text>
<text class="T" x="526.3" y="1496.5">0</text>
<text class="T" transform="translate(570.8,1493.1)rotate(-40)">10<tspan dy="-2" font-size="4">3</tspan></text>
<text class="T" transform="translate(599.1,1493.1)rotate(-40)">10<tspan dy="-2" font-size="4">4</tspan></text>
<text class="T" transform="translate(626.4,1493.1)rotate(-40)">10<tspan dy="-2" font-size="4">5</tspan></text>
<text class="T" transform="translate(658.2,1137.5)rotate(-40)">10<tspan dy="-2" font-size="4">5</tspan></text>
<text class="T" transform="translate(658.2,1161.8)rotate(-40)">10<tspan dy="-2" font-size="4">4</tspan></text>
<text class="T" transform="translate(658.2,1185.9)rotate(-40)">10<tspan dy="-2" font-size="4">3</tspan></text>
<text class="T" transform="translate(658.2,1210.2)rotate(-40)">10<tspan dy="-2" font-size="4">2</tspan></text>
<text class="T" transform="translate(658.2,1234.5)rotate(-40)">10<tspan dy="-2" font-size="4">1</tspan></text>
<text class="T" transform="translate(658.2,1257.5)rotate(-40)">10<tspan dy="-2" font-size="4">5</tspan></text>
<text class="T" transform="translate(658.2,1281.8)rotate(-40)">10<tspan dy="-2" font-size="4">4</tspan></text>
<text class="T" transform="translate(658.2,1305.9)rotate(-40)">10<tspan dy="-2" font-size="4">3</tspan></text>
<text class="T" transform="translate(658.2,1330.2)rotate(-40)">10<tspan dy="-2" font-size="4">2</tspan></text>
<text class="T" transform="translate(658.2,1354.5)rotate(-40)">10<tspan dy="-2" font-size="4">1</tspan></text>
<text class="T" transform="translate(658.2,1377.5)rotate(-40)">10<tspan dy="-2" font-size="4">5</tspan></text>
<text class="T" transform="translate(658.2,1401.8)rotate(-40)">10<tspan dy="-2" font-size="4">4</tspan></text>
<text class="T" transform="translate(658.2,1425.9)rotate(-40)">10<tspan dy="-2" font-size="4">3</tspan></text>
<text class="T" transform="translate(658.2,1450.2)rotate(-40)">10<tspan dy="-2" font-size="4">2</tspan></text>
<text class="T" transform="translate(658.2,1474.5)rotate(-40)">10<tspan dy="-2" font-size="4">1</tspan></text>
<text class="T" x="679.3" y="1496.5">0</text>
<text class="T" transform="translate(723.8,1493.1)rotate(-40)">10<tspan dy="-2" font-size="4">3</tspan></text>
<text class="T" transform="translate(752.1,1493.1)rotate(-40)">10<tspan dy="-2" font-size="4">4</tspan></text>
<text class="T" transform="translate(779.4,1493.1)rotate(-40)">10<tspan dy="-2" font-size="4">5</tspan></text>
<text class="T" transform="translate(812,1137.5)rotate(-40)">10<tspan dy="-2" font-size="4">5</tspan></text>
<text class="T" transform="translate(812,1161.8)rotate(-40)">10<tspan dy="-2" font-size="4">4</tspan></text>
<text class="T" transform="translate(812,1185.9)rotate(-40)">10<tspan dy="-2" font-size="4">3</tspan></text>
<text class="T" transform="translate(812,1210.2)rotate(-40)">10<tspan dy="-2" font-size="4">2</tspan></text>
<text class="T" transform="translate(812,1234.5)rotate(-40)">10<tspan dy="-2" font-size="4">1</tspan></text>
<text class="T" transform="translate(812,1257.5)rotate(-40)">10<tspan dy="-2" font-size="4">5</tspan></text>
<text class="T" transform="translate(812,1281.8)rotate(-40)">10<tspan dy="-2" font-size="4">4</tspan></text>
<text class="T" transform="translate(812,1305.9)rotate(-40)">10<tspan dy="-2" font-size="4">3</tspan></text>
<text class="T" transform="translate(812,1330.2)rotate(-40)">10<tspan dy="-2" font-size="4">2</tspan></text>
<text class="T" transform="translate(812,1354.5)rotate(-40)">10<tspan dy="-2" font-size="4">1</tspan></text>
<text class="T" transform="translate(812,1377.5)rotate(-40)">10<tspan dy="-2" font-size="4">5</tspan></text>
<text class="T" transform="translate(812,1401.8)rotate(-40)">10<tspan dy="-2" font-size="4">4</tspan></text>
<text class="T" transform="translate(812,1425.9)rotate(-40)">10<tspan dy="-2" font-size="4">3</tspan></text>
<text class="T" transform="translate(812,1450.2)rotate(-40)">10<tspan dy="-2" font-size="4">2</tspan></text>
<text class="T" transform="translate(812,1474.5)rotate(-40)">10<tspan dy="-2" font-size="4">1</tspan></text>
<text class="T" x="833.1" y="1496.5">0</text>
<text class="T" transform="translate(877.6,1493.1)rotate(-40)">10<tspan dy="-2" font-size="4">3</tspan></text>
<text class="T" transform="translate(905.9,1493.1)rotate(-40)">10<tspan dy="-2" font-size="4">4</tspan></text>
<text class="T" transform="translate(933.2,1493.1)rotate(-40)">10<tspan dy="-2" font-size="4">5</tspan></text>
<text class="T" transform="translate(964.9,1137.5)rotate(-40)">10<tspan dy="-2" font-size="4">5</tspan></text>
<text class="T" transform="translate(964.9,1161.8)rotate(-40)">10<tspan dy="-2" font-size="4">4</tspan></text>
<text class="T" transform="translate(964.9,1185.9)rotate(-40)">10<tspan dy="-2" font-size="4">3</tspan></text>
<text class="T" transform="translate(964.9,1210.2)rotate(-40)">10<tspan dy="-2" font-size="4">2</tspan></text>
<text class="T" transform="translate(964.9,1234.5)rotate(-40)">10<tspan dy="-2" font-size="4">1</tspan></text>
<text class="T" transform="translate(964.9,1257.5)rotate(-40)">10<tspan dy="-2" font-size="4">5</tspan></text>
<text class="T" transform="translate(964.9,1281.8)rotate(-40)">10<tspan dy="-2" font-size="4">4</tspan></text>
<text class="T" transform="translate(964.9,1305.9)rotate(-40)">10<tspan dy="-2" font-size="4">3</tspan></text>
<text class="T" transform="translate(964.9,1330.2)rotate(-40)">10<tspan dy="-2" font-size="4">2</tspan></text>
<text class="T" transform="translate(964.9,1354.5)rotate(-40)">10<tspan dy="-2" font-size="4">1</tspan></text>
<text class="T" transform="translate(964.9,1377.5)rotate(-40)">10<tspan dy="-2" font-size="4">5</tspan></text>
<text class="T" transform="translate(964.9,1401.8)rotate(-40)">10<tspan dy="-2" font-size="4">4</tspan></text>
<text class="T" transform="translate(964.9,1425.9)rotate(-40)">10<tspan dy="-2" font-size="4">3</tspan></text>
<text class="T" transform="translate(964.9,1450.2)rotate(-40)">10<tspan dy="-2" font-size="4">2</tspan></text>
<text class="T" transform="translate(964.9,1474.5)rotate(-40)">10<tspan dy="-2" font-size="4">1</tspan></text>
<text class="T" x="986" y="1496.5">0</text>
<text class="T" transform="translate(1030.5,1493.1)rotate(-40)">10<tspan dy="-2" font-size="4">3</tspan></text>
<text class="T" transform="translate(1058.8,1493.1)rotate(-40)">10<tspan dy="-2" font-size="4">4</tspan></text>
<text class="T" transform="translate(1086.1,1493.1)rotate(-40)">10<tspan dy="-2" font-size="4">5</tspan></text>
<text class="T" transform="translate(1118.1,1137.5)rotate(-40)">10<tspan dy="-2" font-size="4">5</tspan></text>
<text class="T" transform="translate(1118.1,1161.8)rotate(-40)">10<tspan dy="-2" font-size="4">4</tspan></text>
<text class="T" transform="translate(1118.1,1185.9)rotate(-40)">10<tspan dy="-2" font-size="4">3</tspan></text>
<text class="T" transform="translate(1118.1,1210.2)rotate(-40)">10<tspan dy="-2" font-size="4">2</tspan></text>
<text class="T" transform="translate(1118.1,1234.5)rotate(-40)">10<tspan dy="-2" font-size="4">1</tspan></text>
<text class="T" transform="translate(1118.1,1257.5)rotate(-40)">10<tspan dy="-2" font-size="4">5</tspan></text>
<text class="T" transform="translate(1118.1,1281.8)rotate(-40)">10<tspan dy="-2" font-size="4">4</tspan></text>
<text class="T" transform="translate(1118.1,1305.9)rotate(-40)">10<tspan dy="-2" font-size="4">3</tspan></text>
<text class="T" transform="translate(1118.1,1330.2)rotate(-40)">10<tspan dy="-2" font-size="4">2</tspan></text>
<text class="T" transform="translate(1118.1,1354.5)rotate(-40)">10<tspan dy="-2" font-size="4">1</tspan></text>
<text class="T" transform="translate(1118.1,1377.5)rotate(-40)">10<tspan dy="-2" font-size="4">5</tspan></text>
<text class="T" transform="translate(1118.1,1401.8)rotate(-40)">10<tspan dy="-2" font-size="4">4</tspan></text>
<text class="T" transform="translate(1118.1,1425.9)rotate(-40)">10<tspan dy="-2" font-size="4">3</tspan></text>
<text class="T" transform="translate(1118.1,1450.2)rotate(-40)">10<tspan dy="-2" font-size="4">2</tspan></text>
<text class="T" transform="translate(1118.1,1474.5)rotate(-40)">10<tspan dy="-2" font-size="4">1</tspan></text>
<text class="T" x="1139.2" y="1496.5">0</text>
<text class="T" transform="translate(1183.7,1493.1)rotate(-40)">10<tspan dy="-2" font-size="4">3</tspan></text>
<text class="T" transform="translate(1212,1493.1)rotate(-40)">10<tspan dy="-2" font-size="4">4</tspan></text>
<text class="T" transform="translate(1239.3,1493.1)rotate(-40)">10<tspan dy="-2" font-size="4">5</tspan></text>
<text class="T" transform="translate(1271.3,1137.5)rotate(-40)">10<tspan dy="-2" font-size="4">5</tspan></text>
<text class="T" transform="translate(1271.3,1161.8)rotate(-40)">10<tspan dy="-2" font-size="4">4</tspan></text>
<text class="T" transform="translate(1271.3,1185.9)rotate(-40)">10<tspan dy="-2" font-size="4">3</tspan></text>
<text class="T" transform="translate(1271.3,1210.2)rotate(-40)">10<tspan dy="-2" font-size="4">2</tspan></text>
<text class="T" transform="translate(1271.3,1234.5)rotate(-40)">10<tspan dy="-2" font-size="4">1</tspan></text>
<text class="T" transform="translate(1271.3,1257.5)rotate(-40)">10<tspan dy="-2" font-size="4">5</tspan></text>
<text class="T" transform="translate(1271.3,1281.8)rotate(-40)">10<tspan dy="-2" font-size="4">4</tspan></text>
<text class="T" transform="translate(1271.3,1305.9)rotate(-40)">10<tspan dy="-2" font-size="4">3</tspan></text>
<text class="T" transform="translate(1271.3,1330.2)rotate(-40)">10<tspan dy="-2" font-size="4">2</tspan></text>
<text class="T" transform="translate(1271.3,1354.5)rotate(-40)">10<tspan dy="-2" font-size="4">1</tspan></text>
<text class="T" transform="translate(1271.3,1377.5)rotate(-40)">10<tspan dy="-2" font-size="4">5</tspan></text>
<text class="T" transform="translate(1271.3,1401.8)rotate(-40)">10<tspan dy="-2" font-size="4">4</tspan></text>
<text class="T" transform="translate(1271.3,1425.9)rotate(-40)">10<tspan dy="-2" font-size="4">3</tspan></text>
<text class="T" transform="translate(1271.3,1450.2)rotate(-40)">10<tspan dy="-2" font-size="4">2</tspan></text>
<text class="T" transform="translate(1271.3,1474.5)rotate(-40)">10<tspan dy="-2" font-size="4">1</tspan></text>
<text class="T" x="1292.4" y="1496.5">0</text>
<text class="T" transform="translate(1336.9,1493.1)rotate(-40)">10<tspan dy="-2" font-size="4">3</tspan></text>
<text class="T" transform="translate(1365.2,1493.1)rotate(-40)">10<tspan dy="-2" font-size="4">4</tspan></text>
<text class="T" transform="translate(1392.5,1493.1)rotate(-40)">10<tspan dy="-2" font-size="4">5</tspan></text>
<text class="T" transform="translate(1423.8,1137.5)rotate(-40)">10<tspan dy="-2" font-size="4">5</tspan></text>
<text class="T" transform="translate(1423.8,1161.8)rotate(-40)">10<tspan dy="-2" font-size="4">4</tspan></text>
<text class="T" transform="translate(1423.8,1185.9)rotate(-40)">10<tspan dy="-2" font-size="4">3</tspan></text>
<text class="T" transform="translate(1423.8,1210.2)rotate(-40)">10<tspan dy="-2" font-size="4">2</tspan></text>
<text class="T" transform="translate(1423.8,1234.5)rotate(-40)">10<tspan dy="-2" font-size="4">1</tspan></text>
<text class="T" transform="translate(1423.8,1257.5)rotate(-40)">10<tspan dy="-2" font-size="4">5</tspan></text>
<text class="T" transform="translate(1423.8,1281.8)rotate(-40)">10<tspan dy="-2" font-size="4">4</tspan></text>
<text class="T" transform="translate(1423.8,1305.9)rotate(-40)">10<tspan dy="-2" font-size="4">3</tspan></text>
<text class="T" transform="translate(1423.8,1330.2)rotate(-40)">10<tspan dy="-2" font-size="4">2</tspan></text>
<text class="T" transform="translate(1423.8,1354.5)rotate(-40)">10<tspan dy="-2" font-size="4">1</tspan></text>
<text class="T" transform="translate(1423.8,1377.5)rotate(-40)">10<tspan dy="-2" font-size="4">5</tspan></text>
<text class="T" transform="translate(1423.8,1401.8)rotate(-40)">10<tspan dy="-2" font-size="4">4</tspan></text>
<text class="T" transform="translate(1423.8,1425.9)rotate(-40)">10<tspan dy="-2" font-size="4">3</tspan></text>
<text class="T" transform="translate(1423.8,1450.2)rotate(-40)">10<tspan dy="-2" font-size="4">2</tspan></text>
<text class="T" transform="translate(1423.8,1474.5)rotate(-40)">10<tspan dy="-2" font-size="4">1</tspan></text>
<text class="T" x="1444.9" y="1496.5">0</text>
<text class="T" transform="translate(1489.4,1493.1)rotate(-40)">10<tspan dy="-2" font-size="4">3</tspan></text>
<text class="T" transform="translate(1517.7,1493.1)rotate(-40)">10<tspan dy="-2" font-size="4">4</tspan></text>
<text class="T" transform="translate(1545,1493.1)rotate(-40)">10<tspan dy="-2" font-size="4">5</tspan></text>
<text class="T" transform="translate(1576.3,1137.5)rotate(-40)">10<tspan dy="-2" font-size="4">5</tspan></text>
<text class="T" transform="translate(1576.3,1161.8)rotate(-40)">10<tspan dy="-2" font-size="4">4</tspan></text>
<text class="T" transform="translate(1576.3,1185.9)rotate(-40)">10<tspan dy="-2" font-size="4">3</tspan></text>
<text class="T" transform="translate(1576.3,1210.2)rotate(-40)">10<tspan dy="-2" font-size="4">2</tspan></text>
<text class="T" transform="translate(1576.3,1234.5)rotate(-40)">10<tspan dy="-2" font-size="4">1</tspan></text>
<text class="T" transform="translate(1576.3,1257.5)rotate(-40)">10<tspan dy="-2" font-size="4">5</tspan></text>
<text class="T" transform="translate(1576.3,1281.8)rotate(-40)">10<tspan dy="-2" font-size="4">4</tspan></text>
<text class="T" transform="translate(1576.3,1305.9)rotate(-40)">10<tspan dy="-2" font-size="4">3</tspan></text>
<text class="T" transform="translate(1576.3,1330.2)rotate(-40)">10<tspan dy="-2" font-size="4">2</tspan></text>
<text class="T" transform="translate(1576.3,1354.5)rotate(-40)">10<tspan dy="-2" font-size="4">1</tspan></text>
<text class="T" transform="translate(1576.3,1377.5)rotate(-40)">10<tspan dy="-2" font-size="4">5</tspan></text>
<text class="T" transform="translate(1576.3,1401.8)rotate(-40)">10<tspan dy="-2" font-size="4">4</tspan></text>
<text class="T" transform="translate(1576.3,1425.9)rotate(-40)">10<tspan dy="-2" font-size="4">3</tspan></text>
<text class="T" transform="translate(1576.3,1450.2)rotate(-40)">10<tspan dy="-2" font-size="4">2</tspan></text>
<text class="T" transform="translate(1576.3,1474.5)rotate(-40)">10<tspan dy="-2" font-size="4">1</tspan></text>
<text class="T" x="1597.4" y="1496.5">0</text>
<text class="T" transform="translate(1641.9,1493.1)rotate(-40)">10<tspan dy="-2" font-size="4">3</tspan></text>
<text class="T" transform="translate(1670.2,1493.1)rotate(-40)">10<tspan dy="-2" font-size="4">4</tspan></text>
<text class="T" transform="translate(1697.5,1493.1)rotate(-40)">10<tspan dy="-2" font-size="4">5</tspan></text>
<use href="#l1" x="85.2" y="1676.6"/>
<use href="#l1" x="236.6" y="1676.6"/>
<use href="#l1" x="388" y="1676.6"/>
<use href="#l1" x="541.6" y="1676.6"/>
<use href="#l1" x="693.3" y="1676.6"/>
<use href="#l1" x="844.6" y="1676.6"/>
<use href="#l1" x="998.2" y="1676.6"/>
<use href="#l1" x="1150.3" y="1676.6"/>
<use href="#l1" x="1301.8" y="1676.6"/>
<use href="#l1" x="1454.2" y="1676.6"/>
<use href="#l1" x="1605.3" y="1676.6"/>
<use href="#l1" x="1757" y="1676.6"/>
<use href="#bLo" x="101" y="1749.1"/>
<use href="#bLo" x="101" y="1868.5"/>
<use href="#bLo" x="101" y="1987.9"/>
<use href="#bLo" x="252.4" y="1749.1"/>
<use href="#bLo" x="252.4" y="1868.5"/>
<use href="#bLo" x="252.4" y="1987.9"/>
<use href="#bLo" x="403.8" y="1749.1"/>
<use href="#bLo" x="403.8" y="1868.5"/>
<use href="#bLo" x="403.8" y="1987.9"/>
<use href="#bLo" x="557.4" y="1749.1"/>
<use href="#bLo" x="557.4" y="1868.5"/>
<use href="#bLo" x="557.4" y="1987.9"/>
<use href="#bLo" x="709.1" y="1749.1"/>
<use href="#bLo" x="709.1" y="1868.5"/>
<use href="#bLo" x="709.1" y="1987.9"/>
<use href="#bLo" x="860.4" y="1749.1"/>
<use href="#bLo" x="860.4" y="1868.5"/>
<use href="#bLo" x="860.4" y="1987.9"/>
<use href="#bLo" x="1014" y="1749.1"/>
<use href="#bLo" x="1014" y="1868.5"/>
<use href="#bLo" x="1014" y="1987.9"/>
<use href="#bLo" x="1166.1" y="1749.1"/>
<use href="#bLo" x="1166.1" y="1868.5"/>
<use href="#bLo" x="1166.1" y="1987.9"/>
<use href="#bLo" x="1317.6" y="1749.1"/>
<use href="#bLo" x="1317.6" y="1868.5"/>
<use href="#bLo" x="1317.6" y="1987.9"/>
<use href="#bLo" x="1470" y="1749.1"/>
<use href="#bLo" x="1470" y="1868.5"/>
<use href="#bLo" x="1470" y="1987.9"/>
<use href="#bLo" x="1621.1" y="1749.1"/>
<use href="#bLo" x="1621.1" y="1868.5"/>
<use href="#bLo" x="1621.1" y="1987.9"/>
<use href="#bLo" x="1772.8" y="1749.1"/>
<use href="#bLo" x="1772.8" y="1868.5"/>
<use href="#bLo" x="1772.8" y="1987.9"/>
<text class="N" x="145" y="1712.4" font-size="29.2" textLength="61.6" lengthAdjust="spacingAndGlyphs">2.32</text>
<text class="N" x="145" y="1831.8" font-size="29.2" textLength="61.6" lengthAdjust="spacingAndGlyphs">1.81</text>
<text class="N" x="145" y="1951.2" font-size="29.2" textLength="61.6" lengthAdjust="spacingAndGlyphs">2.19</text>
<text class="N" x="296.4" y="1712.4" font-size="29.2" textLength="61.6" lengthAdjust="spacingAndGlyphs">2.12</text>
<text class="N" x="296.4" y="1831.8" font-size="29.2" textLength="61.6" lengthAdjust="spacingAndGlyphs">1.97</text>
<text class="N" x="296.4" y="1951.2" font-size="29.2" textLength="61.6" lengthAdjust="spacingAndGlyphs">1.98</text>
<text class="N" x="447.8" y="1712.4" font-size="29.2" textLength="61.6" lengthAdjust="spacingAndGlyphs">2.05</text>
<text class="N" x="447.8" y="1831.8" font-size="29.2" textLength="61.6" lengthAdjust="spacingAndGlyphs">1.93</text>
<text class="N" x="447.8" y="1951.2" font-size="29.2" textLength="61.6" lengthAdjust="spacingAndGlyphs">1.92</text>
<text class="N" x="601.4" y="1712.4" font-size="29.2" textLength="61.6" lengthAdjust="spacingAndGlyphs">2.23</text>
<text class="N" x="601.4" y="1831.8" font-size="29.2" textLength="61.6" lengthAdjust="spacingAndGlyphs">1.89</text>
<text class="N" x="601.4" y="1951.2" font-size="29.2" textLength="61.6" lengthAdjust="spacingAndGlyphs">2.02</text>
<text class="N" x="753.1" y="1712.4" font-size="29.2" textLength="61.6" lengthAdjust="spacingAndGlyphs">2.11</text>
<text class="N" x="753.1" y="1831.8" font-size="29.2" textLength="61.6" lengthAdjust="spacingAndGlyphs">2.07</text>
<text class="N" x="753.1" y="1951.2" font-size="29.2" textLength="61.6" lengthAdjust="spacingAndGlyphs">1.81</text>
<text class="N" x="904.4" y="1712.4" font-size="29.2" textLength="61.6" lengthAdjust="spacingAndGlyphs">1.99</text>
<text class="N" x="904.4" y="1831.8" font-size="29.2" textLength="61.6" lengthAdjust="spacingAndGlyphs">2.22</text>
<text class="N" x="904.4" y="1951.2" font-size="29.2" textLength="61.6" lengthAdjust="spacingAndGlyphs">2.06</text>
<text class="N" x="1058" y="1712.4" font-size="29.2" textLength="61.6" lengthAdjust="spacingAndGlyphs">2.52</text>
<text class="N" x="1058" y="1831.8" font-size="29.2" textLength="61.6" lengthAdjust="spacingAndGlyphs">2.01</text>
<text class="N" x="1058" y="1951.2" font-size="29.2" textLength="61.6" lengthAdjust="spacingAndGlyphs">2.24</text>
<text class="N" x="1210.1" y="1712.4" font-size="29.2" textLength="61.6" lengthAdjust="spacingAndGlyphs">2.17</text>
<text class="N" x="1210.1" y="1831.8" font-size="29.2" textLength="61.6" lengthAdjust="spacingAndGlyphs">1.94</text>
<text class="N" x="1210.1" y="1951.2" font-size="29.2" textLength="61.6" lengthAdjust="spacingAndGlyphs">2.45</text>
<text class="N" x="1361.6" y="1712.4" font-size="29.2" textLength="61.6" lengthAdjust="spacingAndGlyphs">2.24</text>
<text class="N" x="1361.6" y="1831.8" font-size="29.2" textLength="61.6" lengthAdjust="spacingAndGlyphs">2.09</text>
<text class="N" x="1361.6" y="1951.2" font-size="29.2" textLength="61.6" lengthAdjust="spacingAndGlyphs">2.33</text>
<text class="N" x="1514" y="1712.4" font-size="29.2" textLength="61.6" lengthAdjust="spacingAndGlyphs">2.25</text>
<text class="N" x="1514" y="1831.8" font-size="29.2" textLength="61.6" lengthAdjust="spacingAndGlyphs">2.09</text>
<text class="N" x="1514" y="1951.2" font-size="29.2" textLength="61.6" lengthAdjust="spacingAndGlyphs">2.14</text>
<text class="N" x="1665.1" y="1712.4" font-size="29.2" textLength="61.6" lengthAdjust="spacingAndGlyphs">2.29</text>
<text class="N" x="1665.1" y="1831.8" font-size="29.2" textLength="61.6" lengthAdjust="spacingAndGlyphs">1.96</text>
<text class="N" x="1665.1" y="1951.2" font-size="29.2" textLength="61.6" lengthAdjust="spacingAndGlyphs">1.90</text>
<text class="N" x="1816.8" y="1712.4" font-size="29.2" textLength="61.6" lengthAdjust="spacingAndGlyphs">2.39</text>
<text class="N" x="1816.8" y="1831.8" font-size="29.2" textLength="61.6" lengthAdjust="spacingAndGlyphs">2.22</text>
<text class="N" x="1816.8" y="1951.2" font-size="29.2" textLength="61.6" lengthAdjust="spacingAndGlyphs">2.57</text>
<text class="T" transform="translate(80.9,1686.5)rotate(-40)">10<tspan dy="-2" font-size="4">5</tspan></text>
<text class="T" transform="translate(80.9,1710.7)rotate(-40)">10<tspan dy="-2" font-size="4">4</tspan></text>
<text class="T" transform="translate(80.9,1734.7)rotate(-40)">10<tspan dy="-2" font-size="4">3</tspan></text>
<text class="T" transform="translate(80.9,1758.9)rotate(-40)">10<tspan dy="-2" font-size="4">2</tspan></text>
<text class="T" transform="translate(80.9,1783.1)rotate(-40)">10<tspan dy="-2" font-size="4">1</tspan></text>
<text class="T" transform="translate(80.9,1805.9)rotate(-40)">10<tspan dy="-2" font-size="4">5</tspan></text>
<text class="T" transform="translate(80.9,1830.1)rotate(-40)">10<tspan dy="-2" font-size="4">4</tspan></text>
<text class="T" transform="translate(80.9,1854.1)rotate(-40)">10<tspan dy="-2" font-size="4">3</tspan></text>
<text class="T" transform="translate(80.9,1878.3)rotate(-40)">10<tspan dy="-2" font-size="4">2</tspan></text>
<text class="T" transform="translate(80.9,1902.5)rotate(-40)">10<tspan dy="-2" font-size="4">1</tspan></text>
<text class="T" transform="translate(80.9,1925.3)rotate(-40)">10<tspan dy="-2" font-size="4">5</tspan></text>
<text class="T" transform="translate(80.9,1949.5)rotate(-40)">10<tspan dy="-2" font-size="4">4</tspan></text>
<text class="T" transform="translate(80.9,1973.5)rotate(-40)">10<tspan dy="-2" font-size="4">3</tspan></text>
<text class="T" transform="translate(80.9,1997.7)rotate(-40)">10<tspan dy="-2" font-size="4">2</tspan></text>
<text class="T" transform="translate(80.9,2021.9)rotate(-40)">10<tspan dy="-2" font-size="4">1</tspan></text>
<text class="T" x="102" y="2043.8">0</text>
<text class="T" transform="translate(146.5,2040.4)rotate(-40)">10<tspan dy="-2" font-size="4">3</tspan></text>
<text class="T" transform="translate(174.8,2040.4)rotate(-40)">10<tspan dy="-2" font-size="4">4</tspan></text>
<text class="T" transform="translate(202.1,2040.4)rotate(-40)">10<tspan dy="-2" font-size="4">5</tspan></text>
<text class="T" transform="translate(232.3,1686.5)rotate(-40)">10<tspan dy="-2" font-size="4">5</tspan></text>
<text class="T" transform="translate(232.3,1710.7)rotate(-40)">10<tspan dy="-2" font-size="4">4</tspan></text>
<text class="T" transform="translate(232.3,1734.7)rotate(-40)">10<tspan dy="-2" font-size="4">3</tspan></text>
<text class="T" transform="translate(232.3,1758.9)rotate(-40)">10<tspan dy="-2" font-size="4">2</tspan></text>
<text class="T" transform="translate(232.3,1783.1)rotate(-40)">10<tspan dy="-2" font-size="4">1</tspan></text>
<text class="T" transform="translate(232.3,1805.9)rotate(-40)">10<tspan dy="-2" font-size="4">5</tspan></text>
<text class="T" transform="translate(232.3,1830.1)rotate(-40)">10<tspan dy="-2" font-size="4">4</tspan></text>
<text class="T" transform="translate(232.3,1854.1)rotate(-40)">10<tspan dy="-2" font-size="4">3</tspan></text>
<text class="T" transform="translate(232.3,1878.3)rotate(-40)">10<tspan dy="-2" font-size="4">2</tspan></text>
<text class="T" transform="translate(232.3,1902.5)rotate(-40)">10<tspan dy="-2" font-size="4">1</tspan></text>
<text class="T" transform="translate(232.3,1925.3)rotate(-40)">10<tspan dy="-2" font-size="4">5</tspan></text>
<text class="T" transform="translate(232.3,1949.5)rotate(-40)">10<tspan dy="-2" font-size="4">4</tspan></text>
<text class="T" transform="translate(232.3,1973.5)rotate(-40)">10<tspan dy="-2" font-size="4">3</tspan></text>
<text class="T" transform="translate(232.3,1997.7)rotate(-40)">10<tspan dy="-2" font-size="4">2</tspan></text>
<text class="T" transform="translate(232.3,2021.9)rotate(-40)">10<tspan dy="-2" font-size="4">1</tspan></text>
<text class="T" x="253.4" y="2043.8">0</text>
<text class="T" transform="translate(297.9,2040.4)rotate(-40)">10<tspan dy="-2" font-size="4">3</tspan></text>
<text class="T" transform="translate(326.2,2040.4)rotate(-40)">10<tspan dy="-2" font-size="4">4</tspan></text>
<text class="T" transform="translate(353.5,2040.4)rotate(-40)">10<tspan dy="-2" font-size="4">5</tspan></text>
<text class="T" transform="translate(383.7,1686.5)rotate(-40)">10<tspan dy="-2" font-size="4">5</tspan></text>
<text class="T" transform="translate(383.7,1710.7)rotate(-40)">10<tspan dy="-2" font-size="4">4</tspan></text>
<text class="T" transform="translate(383.7,1734.7)rotate(-40)">10<tspan dy="-2" font-size="4">3</tspan></text>
<text class="T" transform="translate(383.7,1758.9)rotate(-40)">10<tspan dy="-2" font-size="4">2</tspan></text>
<text class="T" transform="translate(383.7,1783.1)rotate(-40)">10<tspan dy="-2" font-size="4">1</tspan></text>
<text class="T" transform="translate(383.7,1805.9)rotate(-40)">10<tspan dy="-2" font-size="4">5</tspan></text>
<text class="T" transform="translate(383.7,1830.1)rotate(-40)">10<tspan dy="-2" font-size="4">4</tspan></text>
<text class="T" transform="translate(383.7,1854.1)rotate(-40)">10<tspan dy="-2" font-size="4">3</tspan></text>
<text class="T" transform="translate(383.7,1878.3)rotate(-40)">10<tspan dy="-2" font-size="4">2</tspan></text>
<text class="T" transform="translate(383.7,1902.5)rotate(-40)">10<tspan dy="-2" font-size="4">1</tspan></text>
<text class="T" transform="translate(383.7,1925.3)rotate(-40)">10<tspan dy="-2" font-size="4">5</tspan></text>
<text class="T" transform="translate(383.7,1949.5)rotate(-40)">10<tspan dy="-2" font-size="4">4</tspan></text>
<text class="T" transform="translate(383.7,1973.5)rotate(-40)">10<tspan dy="-2" font-size="4">3</tspan></text>
<text class="T" transform="translate(383.7,1997.7)rotate(-40)">10<tspan dy="-2" font-size="4">2</tspan></text>
<text class="T" transform="translate(383.7,2021.9)rotate(-40)">10<tspan dy="-2" font-size="4">1</tspan></text>
<text class="T" x="404.8" y="2043.8">0</text>
<text class="T" transform="translate(449.3,2040.4)rotate(-40)">10<tspan dy="-2" font-size="4">3</tspan></text>
<text class="T" transform="translate(477.6,2040.4)rotate(-40)">10<tspan dy="-2" font-size="4">4</tspan></text>
<text class="T" transform="translate(504.9,2040.4)rotate(-40)">10<tspan dy="-2" font-size="4">5</tspan></text>
<text class="T" transform="translate(537.3,1686.5)rotate(-40)">10<tspan dy="-2" font-size="4">5</tspan></text>
<text class="T" transform="translate(537.3,1710.7)rotate(-40)">10<tspan dy="-2" font-size="4">4</tspan></text>
<text class="T" transform="translate(537.3,1734.7)rotate(-40)">10<tspan dy="-2" font-size="4">3</tspan></text>
<text class="T" transform="translate(537.3,1758.9)rotate(-40)">10<tspan dy="-2" font-size="4">2</tspan></text>
<text class="T" transform="translate(537.3,1783.1)rotate(-40)">10<tspan dy="-2" font-size="4">1</tspan></text>
<text class="T" transform="translate(537.3,1805.9)rotate(-40)">10<tspan dy="-2" font-size="4">5</tspan></text>
<text class="T" transform="translate(537.3,1830.1)rotate(-40)">10<tspan dy="-2" font-size="4">4</tspan></text>
<text class="T" transform="translate(537.3,1854.1)rotate(-40)">10<tspan dy="-2" font-size="4">3</tspan></text>
<text class="T" transform="translate(537.3,1878.3)rotate(-40)">10<tspan dy="-2" font-size="4">2</tspan></text>
<text class="T" transform="translate(537.3,1902.5)rotate(-40)">10<tspan dy="-2" font-size="4">1</tspan></text>
<text class="T" transform="translate(537.3,1925.3)rotate(-40)">10<tspan dy="-2" font-size="4">5</tspan></text>
<text class="T" transform="translate(537.3,1949.5)rotate(-40)">10<tspan dy="-2" font-size="4">4</tspan></text>
<text class="T" transform="translate(537.3,1973.5)rotate(-40)">10<tspan dy="-2" font-size="4">3</tspan></text>
<text class="T" transform="translate(537.3,1997.7)rotate(-40)">10<tspan dy="-2" font-size="4">2</tspan></text>
<text class="T" transform="translate(537.3,2021.9)rotate(-40)">10<tspan dy="-2" font-size="4">1</tspan></text>
<text class="T" x="558.4" y="2043.8">0</text>
<text class="T" transform="translate(602.9,2040.4)rotate(-40)">10<tspan dy="-2" font-size="4">3</tspan></text>
<text class="T" transform="translate(631.2,2040.4)rotate(-40)">10<tspan dy="-2" font-size="4">4</tspan></text>
<text class="T" transform="translate(658.5,2040.4)rotate(-40)">10<tspan dy="-2" font-size="4">5</tspan></text>
<text class="T" transform="translate(689,1686.5)rotate(-40)">10<tspan dy="-2" font-size="4">5</tspan></text>
<text class="T" transform="translate(689,1710.7)rotate(-40)">10<tspan dy="-2" font-size="4">4</tspan></text>
<text class="T" transform="translate(689,1734.7)rotate(-40)">10<tspan dy="-2" font-size="4">3</tspan></text>
<text class="T" transform="translate(689,1758.9)rotate(-40)">10<tspan dy="-2" font-size="4">2</tspan></text>
<text class="T" transform="translate(689,1783.1)rotate(-40)">10<tspan dy="-2" font-size="4">1</tspan></text>
<text class="T" transform="translate(689,1805.9)rotate(-40)">10<tspan dy="-2" font-size="4">5</tspan></text>
<text class="T" transform="translate(689,1830.1)rotate(-40)">10<tspan dy="-2" font-size="4">4</tspan></text>
<text class="T" transform="translate(689,1854.1)rotate(-40)">10<tspan dy="-2" font-size="4">3</tspan></text>
<text class="T" transform="translate(689,1878.3)rotate(-40)">10<tspan dy="-2" font-size="4">2</tspan></text>
<text class="T" transform="translate(689,1902.5)rotate(-40)">10<tspan dy="-2" font-size="4">1</tspan></text>
<text class="T" transform="translate(689,1925.3)rotate(-40)">10<tspan dy="-2" font-size="4">5</tspan></text>
<text class="T" transform="translate(689,1949.5)rotate(-40)">10<tspan dy="-2" font-size="4">4</tspan></text>
<text class="T" transform="translate(689,1973.5)rotate(-40)">10<tspan dy="-2" font-size="4">3</tspan></text>
<text class="T" transform="translate(689,1997.7)rotate(-40)">10<tspan dy="-2" font-size="4">2</tspan></text>
<text class="T" transform="translate(689,2021.9)rotate(-40)">10<tspan dy="-2" font-size="4">1</tspan></text>
<text class="T" x="710.1" y="2043.8">0</text>
<text class="T" transform="translate(754.6,2040.4)rotate(-40)">10<tspan dy="-2" font-size="4">3</tspan></text>
<text class="T" transform="translate(782.9,2040.4)rotate(-40)">10<tspan dy="-2" font-size="4">4</tspan></text>
<text class="T" transform="translate(810.2,2040.4)rotate(-40)">10<tspan dy="-2" font-size="4">5</tspan></text>
<text class="T" transform="translate(840.3,1686.5)rotate(-40)">10<tspan dy="-2" font-size="4">5</tspan></text>
<text class="T" transform="translate(840.3,1710.7)rotate(-40)">10<tspan dy="-2" font-size="4">4</tspan></text>
<text class="T" transform="translate(840.3,1734.7)rotate(-40)">10<tspan dy="-2" font-size="4">3</tspan></text>
<text class="T" transform="translate(840.3,1758.9)rotate(-40)">10<tspan dy="-2" font-size="4">2</tspan></text>
<text class="T" transform="translate(840.3,1783.1)rotate(-40)">10<tspan dy="-2" font-size="4">1</tspan></text>
<text class="T" transform="translate(840.3,1805.9)rotate(-40)">10<tspan dy="-2" font-size="4">5</tspan></text>
<text class="T" transform="translate(840.3,1830.1)rotate(-40)">10<tspan dy="-2" font-size="4">4</tspan></text>
<text class="T" transform="translate(840.3,1854.1)rotate(-40)">10<tspan dy="-2" font-size="4">3</tspan></text>
<text class="T" transform="translate(840.3,1878.3)rotate(-40)">10<tspan dy="-2" font-size="4">2</tspan></text>
<text class="T" transform="translate(840.3,1902.5)rotate(-40)">10<tspan dy="-2" font-size="4">1</tspan></text>
<text class="T" transform="translate(840.3,1925.3)rotate(-40)">10<tspan dy="-2" font-size="4">5</tspan></text>
<text class="T" transform="translate(840.3,1949.5)rotate(-40)">10<tspan dy="-2" font-size="4">4</tspan></text>
<text class="T" transform="translate(840.3,1973.5)rotate(-40)">10<tspan dy="-2" font-size="4">3</tspan></text>
<text class="T" transform="translate(840.3,1997.7)rotate(-40)">10<tspan dy="-2" font-size="4">2</tspan></text>
<text class="T" transform="translate(840.3,2021.9)rotate(-40)">10<tspan dy="-2" font-size="4">1</tspan></text>
<text class="T" x="861.4" y="2043.8">0</text>
<text class="T" transform="translate(905.9,2040.4)rotate(-40)">10<tspan dy="-2" font-size="4">3</tspan></text>
<text class="T" transform="translate(934.2,2040.4)rotate(-40)">10<tspan dy="-2" font-size="4">4</tspan></text>
<text class="T" transform="translate(961.5,2040.4)rotate(-40)">10<tspan dy="-2" font-size="4">5</tspan></text>
<text class="T" transform="translate(993.9,1686.5)rotate(-40)">10<tspan dy="-2" font-size="4">5</tspan></text>
<text class="T" transform="translate(993.9,1710.7)rotate(-40)">10<tspan dy="-2" font-size="4">4</tspan></text>
<text class="T" transform="translate(993.9,1734.7)rotate(-40)">10<tspan dy="-2" font-size="4">3</tspan></text>
<text class="T" transform="translate(993.9,1758.9)rotate(-40)">10<tspan dy="-2" font-size="4">2</tspan></text>
<text class="T" transform="translate(993.9,1783.1)rotate(-40)">10<tspan dy="-2" font-size="4">1</tspan></text>
<text class="T" transform="translate(993.9,1805.9)rotate(-40)">10<tspan dy="-2" font-size="4">5</tspan></text>
<text class="T" transform="translate(993.9,1830.1)rotate(-40)">10<tspan dy="-2" font-size="4">4</tspan></text>
<text class="T" transform="translate(993.9,1854.1)rotate(-40)">10<tspan dy="-2" font-size="4">3</tspan></text>
<text class="T" transform="translate(993.9,1878.3)rotate(-40)">10<tspan dy="-2" font-size="4">2</tspan></text>
<text class="T" transform="translate(993.9,1902.5)rotate(-40)">10<tspan dy="-2" font-size="4">1</tspan></text>
<text class="T" transform="translate(993.9,1925.3)rotate(-40)">10<tspan dy="-2" font-size="4">5</tspan></text>
<text class="T" transform="translate(993.9,1949.5)rotate(-40)">10<tspan dy="-2" font-size="4">4</tspan></text>
<text class="T" transform="translate(993.9,1973.5)rotate(-40)">10<tspan dy="-2" font-size="4">3</tspan></text>
<text class="T" transform="translate(993.9,1997.7)rotate(-40)">10<tspan dy="-2" font-size="4">2</tspan></text>
<text class="T" transform="translate(993.9,2021.9)rotate(-40)">10<tspan dy="-2" font-size="4">1</tspan></text>
<text class="T" x="1015" y="2043.8">0</text>
<text class="T" transform="translate(1059.5,2040.4)rotate(-40)">10<tspan dy="-2" font-size="4">3</tspan></text>
<text class="T" transform="translate(1087.8,2040.4)rotate(-40)">10<tspan dy="-2" font-size="4">4</tspan></text>
<text class="T" transform="translate(1115.1,2040.4)rotate(-40)">10<tspan dy="-2" font-size="4">5</tspan></text>
<text class="T" transform="translate(1146,1686.5)rotate(-40)">10<tspan dy="-2" font-size="4">5</tspan></text>
<text class="T" transform="translate(1146,1710.7)rotate(-40)">10<tspan dy="-2" font-size="4">4</tspan></text>
<text class="T" transform="translate(1146,1734.7)rotate(-40)">10<tspan dy="-2" font-size="4">3</tspan></text>
<text class="T" transform="translate(1146,1758.9)rotate(-40)">10<tspan dy="-2" font-size="4">2</tspan></text>
<text class="T" transform="translate(1146,1783.1)rotate(-40)">10<tspan dy="-2" font-size="4">1</tspan></text>
<text class="T" transform="translate(1146,1805.9)rotate(-40)">10<tspan dy="-2" font-size="4">5</tspan></text>
<text class="T" transform="translate(1146,1830.1)rotate(-40)">10<tspan dy="-2" font-size="4">4</tspan></text>
<text class="T" transform="translate(1146,1854.1)rotate(-40)">10<tspan dy="-2" font-size="4">3</tspan></text>
<text class="T" transform="translate(1146,1878.3)rotate(-40)">10<tspan dy="-2" font-size="4">2</tspan></text>
<text class="T" transform="translate(1146,1902.5)rotate(-40)">10<tspan dy="-2" font-size="4">1</tspan></text>
<text class="T" transform="translate(1146,1925.3)rotate(-40)">10<tspan dy="-2" font-size="4">5</tspan></text>
<text class="T" transform="translate(1146,1949.5)rotate(-40)">10<tspan dy="-2" font-size="4">4</tspan></text>
<text class="T" transform="translate(1146,1973.5)rotate(-40)">10<tspan dy="-2" font-size="4">3</tspan></text>
<text class="T" transform="translate(1146,1997.7)rotate(-40)">10<tspan dy="-2" font-size="4">2</tspan></text>
<text class="T" transform="translate(1146,2021.9)rotate(-40)">10<tspan dy="-2" font-size="4">1</tspan></text>
<text class="T" x="1167.1" y="2043.8">0</text>
<text class="T" transform="translate(1211.6,2040.4)rotate(-40)">10<tspan dy="-2" font-size="4">3</tspan></text>
<text class="T" transform="translate(1239.9,2040.4)rotate(-40)">10<tspan dy="-2" font-size="4">4</tspan></text>
<text class="T" transform="translate(1267.2,2040.4)rotate(-40)">10<tspan dy="-2" font-size="4">5</tspan></text>
<text class="T" transform="translate(1297.5,1686.5)rotate(-40)">10<tspan dy="-2" font-size="4">5</tspan></text>
<text class="T" transform="translate(1297.5,1710.7)rotate(-40)">10<tspan dy="-2" font-size="4">4</tspan></text>
<text class="T" transform="translate(1297.5,1734.7)rotate(-40)">10<tspan dy="-2" font-size="4">3</tspan></text>
<text class="T" transform="translate(1297.5,1758.9)rotate(-40)">10<tspan dy="-2" font-size="4">2</tspan></text>
<text class="T" transform="translate(1297.5,1783.1)rotate(-40)">10<tspan dy="-2" font-size="4">1</tspan></text>
<text class="T" transform="translate(1297.5,1805.9)rotate(-40)">10<tspan dy="-2" font-size="4">5</tspan></text>
<text class="T" transform="translate(1297.5,1830.1)rotate(-40)">10<tspan dy="-2" font-size="4">4</tspan></text>
<text class="T" transform="translate(1297.5,1854.1)rotate(-40)">10<tspan dy="-2" font-size="4">3</tspan></text>
<text class="T" transform="translate(1297.5,1878.3)rotate(-40)">10<tspan dy="-2" font-size="4">2</tspan></text>
<text class="T" transform="translate(1297.5,1902.5)rotate(-40)">10<tspan dy="-2" font-size="4">1</tspan></text>
<text class="T" transform="translate(1297.5,1925.3)rotate(-40)">10<tspan dy="-2" font-size="4">5</tspan></text>
<text class="T" transform="translate(1297.5,1949.5)rotate(-40)">10<tspan dy="-2" font-size="4">4</tspan></text>
<text class="T" transform="translate(1297.5,1973.5)rotate(-40)">10<tspan dy="-2" font-size="4">3</tspan></text>
<text class="T" transform="translate(1297.5,1997.7)rotate(-40)">10<tspan dy="-2" font-size="4">2</tspan></text>
<text class="T" transform="translate(1297.5,2021.9)rotate(-40)">10<tspan dy="-2" font-size="4">1</tspan></text>
<text class="T" x="1318.6" y="2043.8">0</text>
<text class="T" transform="translate(1363.1,2040.4)rotate(-40)">10<tspan dy="-2" font-size="4">3</tspan></text>
<text class="T" transform="translate(1391.4,2040.4)rotate(-40)">10<tspan dy="-2" font-size="4">4</tspan></text>
<text class="T" transform="translate(1418.7,2040.4)rotate(-40)">10<tspan dy="-2" font-size="4">5</tspan></text>
<text class="T" transform="translate(1449.9,1686.5)rotate(-40)">10<tspan dy="-2" font-size="4">5</tspan></text>
<text class="T" transform="translate(1449.9,1710.7)rotate(-40)">10<tspan dy="-2" font-size="4">4</tspan></text>
<text class="T" transform="translate(1449.9,1734.7)rotate(-40)">10<tspan dy="-2" font-size="4">3</tspan></text>
<text class="T" transform="translate(1449.9,1758.9)rotate(-40)">10<tspan dy="-2" font-size="4">2</tspan></text>
<text class="T" transform="translate(1449.9,1783.1)rotate(-40)">10<tspan dy="-2" font-size="4">1</tspan></text>
<text class="T" transform="translate(1449.9,1805.9)rotate(-40)">10<tspan dy="-2" font-size="4">5</tspan></text>
<text class="T" transform="translate(1449.9,1830.1)rotate(-40)">10<tspan dy="-2" font-size="4">4</tspan></text>
<text class="T" transform="translate(1449.9,1854.1)rotate(-40)">10<tspan dy="-2" font-size="4">3</tspan></text>
<text class="T" transform="translate(1449.9,1878.3)rotate(-40)">10<tspan dy="-2" font-size="4">2</tspan></text>
<text class="T" transform="translate(1449.9,1902.5)rotate(-40)">10<tspan dy="-2" font-size="4">1</tspan></text>
<text class="T" transform="translate(1449.9,1925.3)rotate(-40)">10<tspan dy="-2" font-size="4">5</tspan></text>
<text class="T" transform="translate(1449.9,1949.5)rotate(-40)">10<tspan dy="-2" font-size="4">4</tspan></text>
<text class="T" transform="translate(1449.9,1973.5)rotate(-40)">10<tspan dy="-2" font-size="4">3</tspan></text>
<text class="T" transform="translate(1449.9,1997.7)rotate(-40)">10<tspan dy="-2" font-size="4">2</tspan></text>
<text class="T" transform="translate(1449.9,2021.9)rotate(-40)">10<tspan dy="-2" font-size="4">1</tspan></text>
<text class="T" x="1471" y="2043.8">0</text>
<text class="T" transform="translate(1515.5,2040.4)rotate(-40)">10<tspan dy="-2" font-size="4">3</tspan></text>
<text class="T" transform="translate(1543.8,2040.4)rotate(-40)">10<tspan dy="-2" font-size="4">4</tspan></text>
<text class="T" transform="translate(1571.1,2040.4)rotate(-40)">10<tspan dy="-2" font-size="4">5</tspan></text>
<text class="T" transform="translate(1601,1686.5)rotate(-40)">10<tspan dy="-2" font-size="4">5</tspan></text>
<text class="T" transform="translate(1601,1710.7)rotate(-40)">10<tspan dy="-2" font-size="4">4</tspan></text>
<text class="T" transform="translate(1601,1734.7)rotate(-40)">10<tspan dy="-2" font-size="4">3</tspan></text>
<text class="T" transform="translate(1601,1758.9)rotate(-40)">10<tspan dy="-2" font-size="4">2</tspan></text>
<text class="T" transform="translate(1601,1783.1)rotate(-40)">10<tspan dy="-2" font-size="4">1</tspan></text>
<text class="T" transform="translate(1601,1805.9)rotate(-40)">10<tspan dy="-2" font-size="4">5</tspan></text>
<text class="T" transform="translate(1601,1830.1)rotate(-40)">10<tspan dy="-2" font-size="4">4</tspan></text>
<text class="T" transform="translate(1601,1854.1)rotate(-40)">10<tspan dy="-2" font-size="4">3</tspan></text>
<text class="T" transform="translate(1601,1878.3)rotate(-40)">10<tspan dy="-2" font-size="4">2</tspan></text>
<text class="T" transform="translate(1601,1902.5)rotate(-40)">10<tspan dy="-2" font-size="4">1</tspan></text>
<text class="T" transform="translate(1601,1925.3)rotate(-40)">10<tspan dy="-2" font-size="4">5</tspan></text>
<text class="T" transform="translate(1601,1949.5)rotate(-40)">10<tspan dy="-2" font-size="4">4</tspan></text>
<text class="T" transform="translate(1601,1973.5)rotate(-40)">10<tspan dy="-2" font-size="4">3</tspan></text>
<text class="T" transform="translate(1601,1997.7)rotate(-40)">10<tspan dy="-2" font-size="4">2</tspan></text>
<text class="T" transform="translate(1601,2021.9)rotate(-40)">10<tspan dy="-2" font-size="4">1</tspan></text>
<text class="T" x="1622.1" y="2043.8">0</text>
<text class="T" transform="translate(1666.6,2040.4)rotate(-40)">10<tspan dy="-2" font-size="4">3</tspan></text>
<text class="T" transform="translate(1694.9,2040.4)rotate(-40)">10<tspan dy="-2" font-size="4">4</tspan></text>
<text class="T" transform="translate(1722.2,2040.4)rotate(-40)">10<tspan dy="-2" font-size="4">5</tspan></text>
<text class="T" transform="translate(1752.7,1686.5)rotate(-40)">10<tspan dy="-2" font-size="4">5</tspan></text>
<text class="T" transform="translate(1752.7,1710.7)rotate(-40)">10<tspan dy="-2" font-size="4">4</tspan></text>
<text class="T" transform="translate(1752.7,1734.7)rotate(-40)">10<tspan dy="-2" font-size="4">3</tspan></text>
<text class="T" transform="translate(1752.7,1758.9)rotate(-40)">10<tspan dy="-2" font-size="4">2</tspan></text>
<text class="T" transform="translate(1752.7,1783.1)rotate(-40)">10<tspan dy="-2" font-size="4">1</tspan></text>
<text class="T" transform="translate(1752.7,1805.9)rotate(-40)">10<tspan dy="-2" font-size="4">5</tspan></text>
<text class="T" transform="translate(1752.7,1830.1)rotate(-40)">10<tspan dy="-2" font-size="4">4</tspan></text>
<text class="T" transform="translate(1752.7,1854.1)rotate(-40)">10<tspan dy="-2" font-size="4">3</tspan></text>
<text class="T" transform="translate(1752.7,1878.3)rotate(-40)">10<tspan dy="-2" font-size="4">2</tspan></text>
<text class="T" transform="translate(1752.7,1902.5)rotate(-40)">10<tspan dy="-2" font-size="4">1</tspan></text>
<text class="T" transform="translate(1752.7,1925.3)rotate(-40)">10<tspan dy="-2" font-size="4">5</tspan></text>
<text class="T" transform="translate(1752.7,1949.5)rotate(-40)">10<tspan dy="-2" font-size="4">4</tspan></text>
<text class="T" transform="translate(1752.7,1973.5)rotate(-40)">10<tspan dy="-2" font-size="4">3</tspan></text>
<text class="T" transform="translate(1752.7,1997.7)rotate(-40)">10<tspan dy="-2" font-size="4">2</tspan></text>
<text class="T" transform="translate(1752.7,2021.9)rotate(-40)">10<tspan dy="-2" font-size="4">1</tspan></text>
<text class="T" x="1773.8" y="2043.8">0</text>
<text class="T" transform="translate(1818.3,2040.4)rotate(-40)">10<tspan dy="-2" font-size="4">3</tspan></text>
<text class="T" transform="translate(1846.6,2040.4)rotate(-40)">10<tspan dy="-2" font-size="4">4</tspan></text>
<text class="T" transform="translate(1873.9,2040.4)rotate(-40)">10<tspan dy="-2" font-size="4">5</tspan></text>
<use href="#l2" x="85.2" y="2055.6"/>
<use href="#l2" x="236.6" y="2055.6"/>
<use href="#l2" x="388" y="2055.6"/>
<use href="#l2" x="541.6" y="2055.6"/>
<use href="#l2" x="693.3" y="2055.6"/>
<use href="#l2" x="844.6" y="2055.6"/>
<use href="#l2" x="998.2" y="2055.6"/>
<use href="#l2" x="1150.3" y="2055.6"/>
<use href="#l2" x="1301.8" y="2055.6"/>
<use href="#l2" x="1454.2" y="2055.6"/>
<use href="#l2" x="1605.3" y="2055.6"/>
<use href="#l2" x="1757" y="2055.6"/>
<use href="#bLo2" x="101" y="2128.9"/>
<use href="#bLo2" x="101" y="2248.1"/>
<use href="#bLo2" x="101" y="2367.3"/>
<use href="#bLo2" x="252.4" y="2128.9"/>
<use href="#bLo2" x="252.4" y="2248.1"/>
<use href="#bLo2" x="252.4" y="2367.3"/>
<use href="#bLo2" x="403.8" y="2128.9"/>
<use href="#bLo2" x="403.8" y="2248.1"/>
<use href="#bLo2" x="403.8" y="2367.3"/>
<use href="#bLo2" x="557.4" y="2128.9"/>
<use href="#bLo2" x="557.4" y="2248.1"/>
<use href="#bLo2" x="557.4" y="2367.3"/>
<use href="#bLo2" x="709.1" y="2128.9"/>
<use href="#bLo2" x="709.1" y="2248.1"/>
<use href="#bLo2" x="709.1" y="2367.3"/>
<use href="#bLo2" x="860.4" y="2128.9"/>
<use href="#bLo2" x="860.4" y="2248.1"/>
<use href="#bLo2" x="860.4" y="2367.3"/>
<use href="#bLo2" x="1014" y="2128.9"/>
<use href="#bLo2" x="1014" y="2248.1"/>
<use href="#bLo2" x="1014" y="2367.3"/>
<use href="#bLo2" x="1166.1" y="2128.9"/>
<use href="#bLo2" x="1166.1" y="2248.1"/>
<use href="#bLo2" x="1166.1" y="2367.3"/>
<use href="#bLo2" x="1317.6" y="2128.9"/>
<use href="#bLo2" x="1317.6" y="2248.1"/>
<use href="#bLo2" x="1317.6" y="2367.3"/>
<use href="#bLo2" x="1470" y="2128.9"/>
<use href="#bLo2" x="1470" y="2248.1"/>
<use href="#bLo2" x="1470" y="2367.3"/>
<use href="#bLo2" x="1621.1" y="2128.9"/>
<use href="#bLo2" x="1621.1" y="2248.1"/>
<use href="#bLo2" x="1621.1" y="2367.3"/>
<use href="#bLo2" x="1772.8" y="2128.9"/>
<use href="#bLo2" x="1772.8" y="2248.1"/>
<use href="#bLo2" x="1772.8" y="2367.3"/>
<text class="N" x="144.9" y="2090.7" font-size="29.0" textLength="61.2" lengthAdjust="spacingAndGlyphs">1.74</text>
<text class="N" x="144.9" y="2209.9" font-size="29.0" textLength="61.2" lengthAdjust="spacingAndGlyphs">1.83</text>
<text class="N" x="144.9" y="2329.1" font-size="29.0" textLength="61.2" lengthAdjust="spacingAndGlyphs">1.71</text>
<text class="N" x="296.3" y="2090.7" font-size="29.0" textLength="61.2" lengthAdjust="spacingAndGlyphs">1.32</text>
<text class="N" x="296.3" y="2209.9" font-size="29.0" textLength="61.2" lengthAdjust="spacingAndGlyphs">1.64</text>
<text class="N" x="296.3" y="2329.1" font-size="29.0" textLength="61.2" lengthAdjust="spacingAndGlyphs">1.77</text>
<text class="N" x="447.7" y="2090.7" font-size="29.0" textLength="61.2" lengthAdjust="spacingAndGlyphs">1.53</text>
<text class="N" x="447.7" y="2209.9" font-size="29.0" textLength="61.2" lengthAdjust="spacingAndGlyphs">1.47</text>
<text class="N" x="447.7" y="2329.1" font-size="29.0" textLength="61.2" lengthAdjust="spacingAndGlyphs">1.34</text>
<text class="N" x="601.3" y="2090.7" font-size="29.0" textLength="61.2" lengthAdjust="spacingAndGlyphs">1.39</text>
<text class="N" x="601.3" y="2209.9" font-size="29.0" textLength="61.2" lengthAdjust="spacingAndGlyphs">1.67</text>
<text class="N" x="601.3" y="2329.1" font-size="29.0" textLength="61.2" lengthAdjust="spacingAndGlyphs">1.72</text>
<text class="N" x="753" y="2090.7" font-size="29.0" textLength="61.2" lengthAdjust="spacingAndGlyphs">1.71</text>
<text class="N" x="753" y="2209.9" font-size="29.0" textLength="61.2" lengthAdjust="spacingAndGlyphs">1.68</text>
<text class="N" x="753" y="2329.1" font-size="29.0" textLength="61.2" lengthAdjust="spacingAndGlyphs">1.93</text>
<text class="N" x="904.3" y="2090.7" font-size="29.0" textLength="61.2" lengthAdjust="spacingAndGlyphs">1.61</text>
<text class="N" x="904.3" y="2209.9" font-size="29.0" textLength="61.2" lengthAdjust="spacingAndGlyphs">1.75</text>
<text class="N" x="904.3" y="2329.1" font-size="29.0" textLength="61.2" lengthAdjust="spacingAndGlyphs">1.79</text>
<text class="N" x="1057.9" y="2090.7" font-size="29.0" textLength="61.2" lengthAdjust="spacingAndGlyphs">1.82</text>
<text class="N" x="1057.9" y="2209.9" font-size="29.0" textLength="61.2" lengthAdjust="spacingAndGlyphs">1.81</text>
<text class="N" x="1057.9" y="2329.1" font-size="29.0" textLength="61.2" lengthAdjust="spacingAndGlyphs">1.76</text>
<text class="N" x="1210" y="2090.7" font-size="29.0" textLength="61.2" lengthAdjust="spacingAndGlyphs">1.51</text>
<text class="N" x="1210" y="2209.9" font-size="29.0" textLength="61.2" lengthAdjust="spacingAndGlyphs">2.14</text>
<text class="N" x="1210" y="2329.1" font-size="29.0" textLength="61.2" lengthAdjust="spacingAndGlyphs">1.71</text>
<text class="N" x="1361.5" y="2090.7" font-size="29.0" textLength="61.2" lengthAdjust="spacingAndGlyphs">1.97</text>
<text class="N" x="1361.5" y="2209.9" font-size="29.0" textLength="61.2" lengthAdjust="spacingAndGlyphs">1.80</text>
<text class="N" x="1361.5" y="2329.1" font-size="29.0" textLength="61.2" lengthAdjust="spacingAndGlyphs">1.77</text>
<text class="N" x="1513.9" y="2090.7" font-size="29.0" textLength="61.2" lengthAdjust="spacingAndGlyphs">1.94</text>
<text class="N" x="1513.9" y="2209.9" font-size="29.0" textLength="61.2" lengthAdjust="spacingAndGlyphs">1.89</text>
<text class="N" x="1513.9" y="2329.1" font-size="29.0" textLength="61.2" lengthAdjust="spacingAndGlyphs">1.79</text>
<text class="N" x="1665" y="2090.7" font-size="29.0" textLength="61.2" lengthAdjust="spacingAndGlyphs">1.78</text>
<text class="N" x="1665" y="2209.9" font-size="29.0" textLength="61.2" lengthAdjust="spacingAndGlyphs">1.94</text>
<text class="N" x="1665" y="2329.1" font-size="29.0" textLength="61.2" lengthAdjust="spacingAndGlyphs">1.75</text>
<text class="N" x="1816.7" y="2090.7" font-size="29.0" textLength="61.2" lengthAdjust="spacingAndGlyphs">1.66</text>
<text class="N" x="1816.7" y="2209.9" font-size="29.0" textLength="61.2" lengthAdjust="spacingAndGlyphs">1.57</text>
<text class="N" x="1816.7" y="2329.1" font-size="29.0" textLength="61.2" lengthAdjust="spacingAndGlyphs">1.92</text>
<text class="T" transform="translate(80.9,2065.5)rotate(-40)">10<tspan dy="-2" font-size="4">5</tspan></text>
<text class="T" transform="translate(80.9,2089.7)rotate(-40)">10<tspan dy="-2" font-size="4">4</tspan></text>
<text class="T" transform="translate(80.9,2113.6)rotate(-40)">10<tspan dy="-2" font-size="4">3</tspan></text>
<text class="T" transform="translate(80.9,2137.7)rotate(-40)">10<tspan dy="-2" font-size="4">2</tspan></text>
<text class="T" transform="translate(80.9,2161.9)rotate(-40)">10<tspan dy="-2" font-size="4">1</tspan></text>
<text class="T" transform="translate(80.9,2184.7)rotate(-40)">10<tspan dy="-2" font-size="4">5</tspan></text>
<text class="T" transform="translate(80.9,2208.9)rotate(-40)">10<tspan dy="-2" font-size="4">4</tspan></text>
<text class="T" transform="translate(80.9,2232.8)rotate(-40)">10<tspan dy="-2" font-size="4">3</tspan></text>
<text class="T" transform="translate(80.9,2256.9)rotate(-40)">10<tspan dy="-2" font-size="4">2</tspan></text>
<text class="T" transform="translate(80.9,2281.1)rotate(-40)">10<tspan dy="-2" font-size="4">1</tspan></text>
<text class="T" transform="translate(80.9,2303.9)rotate(-40)">10<tspan dy="-2" font-size="4">5</tspan></text>
<text class="T" transform="translate(80.9,2328.1)rotate(-40)">10<tspan dy="-2" font-size="4">4</tspan></text>
<text class="T" transform="translate(80.9,2352)rotate(-40)">10<tspan dy="-2" font-size="4">3</tspan></text>
<text class="T" transform="translate(80.9,2376.1)rotate(-40)">10<tspan dy="-2" font-size="4">2</tspan></text>
<text class="T" transform="translate(80.9,2400.3)rotate(-40)">10<tspan dy="-2" font-size="4">1</tspan></text>
<text class="T" x="102" y="2422.2">0</text>
<text class="T" transform="translate(146.5,2418.8)rotate(-40)">10<tspan dy="-2" font-size="4">3</tspan></text>
<text class="T" transform="translate(174.8,2418.8)rotate(-40)">10<tspan dy="-2" font-size="4">4</tspan></text>
<text class="T" transform="translate(202.1,2418.8)rotate(-40)">10<tspan dy="-2" font-size="4">5</tspan></text>
<text class="T" transform="translate(232.3,2065.5)rotate(-40)">10<tspan dy="-2" font-size="4">5</tspan></text>
<text class="T" transform="translate(232.3,2089.7)rotate(-40)">10<tspan dy="-2" font-size="4">4</tspan></text>
<text class="T" transform="translate(232.3,2113.6)rotate(-40)">10<tspan dy="-2" font-size="4">3</tspan></text>
<text class="T" transform="translate(232.3,2137.7)rotate(-40)">10<tspan dy="-2" font-size="4">2</tspan></text>
<text class="T" transform="translate(232.3,2161.9)rotate(-40)">10<tspan dy="-2" font-size="4">1</tspan></text>
<text class="T" transform="translate(232.3,2184.7)rotate(-40)">10<tspan dy="-2" font-size="4">5</tspan></text>
<text class="T" transform="translate(232.3,2208.9)rotate(-40)">10<tspan dy="-2" font-size="4">4</tspan></text>
<text class="T" transform="translate(232.3,2232.8)rotate(-40)">10<tspan dy="-2" font-size="4">3</tspan></text>
<text class="T" transform="translate(232.3,2256.9)rotate(-40)">10<tspan dy="-2" font-size="4">2</tspan></text>
<text class="T" transform="translate(232.3,2281.1)rotate(-40)">10<tspan dy="-2" font-size="4">1</tspan></text>
<text class="T" transform="translate(232.3,2303.9)rotate(-40)">10<tspan dy="-2" font-size="4">5</tspan></text>
<text class="T" transform="translate(232.3,2328.1)rotate(-40)">10<tspan dy="-2" font-size="4">4</tspan></text>
<text class="T" transform="translate(232.3,2352)rotate(-40)">10<tspan dy="-2" font-size="4">3</tspan></text>
<text class="T" transform="translate(232.3,2376.1)rotate(-40)">10<tspan dy="-2" font-size="4">2</tspan></text>
<text class="T" transform="translate(232.3,2400.3)rotate(-40)">10<tspan dy="-2" font-size="4">1</tspan></text>
<text class="T" x="253.4" y="2422.2">0</text>
<text class="T" transform="translate(297.9,2418.8)rotate(-40)">10<tspan dy="-2" font-size="4">3</tspan></text>
<text class="T" transform="translate(326.2,2418.8)rotate(-40)">10<tspan dy="-2" font-size="4">4</tspan></text>
<text class="T" transform="translate(353.5,2418.8)rotate(-40)">10<tspan dy="-2" font-size="4">5</tspan></text>
<text class="T" transform="translate(383.7,2065.5)rotate(-40)">10<tspan dy="-2" font-size="4">5</tspan></text>
<text class="T" transform="translate(383.7,2089.7)rotate(-40)">10<tspan dy="-2" font-size="4">4</tspan></text>
<text class="T" transform="translate(383.7,2113.6)rotate(-40)">10<tspan dy="-2" font-size="4">3</tspan></text>
<text class="T" transform="translate(383.7,2137.7)rotate(-40)">10<tspan dy="-2" font-size="4">2</tspan></text>
<text class="T" transform="translate(383.7,2161.9)rotate(-40)">10<tspan dy="-2" font-size="4">1</tspan></text>
<text class="T" transform="translate(383.7,2184.7)rotate(-40)">10<tspan dy="-2" font-size="4">5</tspan></text>
<text class="T" transform="translate(383.7,2208.9)rotate(-40)">10<tspan dy="-2" font-size="4">4</tspan></text>
<text class="T" transform="translate(383.7,2232.8)rotate(-40)">10<tspan dy="-2" font-size="4">3</tspan></text>
<text class="T" transform="translate(383.7,2256.9)rotate(-40)">10<tspan dy="-2" font-size="4">2</tspan></text>
<text class="T" transform="translate(383.7,2281.1)rotate(-40)">10<tspan dy="-2" font-size="4">1</tspan></text>
<text class="T" transform="translate(383.7,2303.9)rotate(-40)">10<tspan dy="-2" font-size="4">5</tspan></text>
<text class="T" transform="translate(383.7,2328.1)rotate(-40)">10<tspan dy="-2" font-size="4">4</tspan></text>
<text class="T" transform="translate(383.7,2352)rotate(-40)">10<tspan dy="-2" font-size="4">3</tspan></text>
<text class="T" transform="translate(383.7,2376.1)rotate(-40)">10<tspan dy="-2" font-size="4">2</tspan></text>
<text class="T" transform="translate(383.7,2400.3)rotate(-40)">10<tspan dy="-2" font-size="4">1</tspan></text>
<text class="T" x="404.8" y="2422.2">0</text>
<text class="T" transform="translate(449.3,2418.8)rotate(-40)">10<tspan dy="-2" font-size="4">3</tspan></text>
<text class="T" transform="translate(477.6,2418.8)rotate(-40)">10<tspan dy="-2" font-size="4">4</tspan></text>
<text class="T" transform="translate(504.9,2418.8)rotate(-40)">10<tspan dy="-2" font-size="4">5</tspan></text>
<text class="T" transform="translate(537.3,2065.5)rotate(-40)">10<tspan dy="-2" font-size="4">5</tspan></text>
<text class="T" transform="translate(537.3,2089.7)rotate(-40)">10<tspan dy="-2" font-size="4">4</tspan></text>
<text class="T" transform="translate(537.3,2113.6)rotate(-40)">10<tspan dy="-2" font-size="4">3</tspan></text>
<text class="T" transform="translate(537.3,2137.7)rotate(-40)">10<tspan dy="-2" font-size="4">2</tspan></text>
<text class="T" transform="translate(537.3,2161.9)rotate(-40)">10<tspan dy="-2" font-size="4">1</tspan></text>
<text class="T" transform="translate(537.3,2184.7)rotate(-40)">10<tspan dy="-2" font-size="4">5</tspan></text>
<text class="T" transform="translate(537.3,2208.9)rotate(-40)">10<tspan dy="-2" font-size="4">4</tspan></text>
<text class="T" transform="translate(537.3,2232.8)rotate(-40)">10<tspan dy="-2" font-size="4">3</tspan></text>
<text class="T" transform="translate(537.3,2256.9)rotate(-40)">10<tspan dy="-2" font-size="4">2</tspan></text>
<text class="T" transform="translate(537.3,2281.1)rotate(-40)">10<tspan dy="-2" font-size="4">1</tspan></text>
<text class="T" transform="translate(537.3,2303.9)rotate(-40)">10<tspan dy="-2" font-size="4">5</tspan></text>
<text class="T" transform="translate(537.3,2328.1)rotate(-40)">10<tspan dy="-2" font-size="4">4</tspan></text>
<text class="T" transform="translate(537.3,2352)rotate(-40)">10<tspan dy="-2" font-size="4">3</tspan></text>
<text class="T" transform="translate(537.3,2376.1)rotate(-40)">10<tspan dy="-2" font-size="4">2</tspan></text>
<text class="T" transform="translate(537.3,2400.3)rotate(-40)">10<tspan dy="-2" font-size="4">1</tspan></text>
<text class="T" x="558.4" y="2422.2">0</text>
<text class="T" transform="translate(602.9,2418.8)rotate(-40)">10<tspan dy="-2" font-size="4">3</tspan></text>
<text class="T" transform="translate(631.2,2418.8)rotate(-40)">10<tspan dy="-2" font-size="4">4</tspan></text>
<text class="T" transform="translate(658.5,2418.8)rotate(-40)">10<tspan dy="-2" font-size="4">5</tspan></text>
<text class="T" transform="translate(689,2065.5)rotate(-40)">10<tspan dy="-2" font-size="4">5</tspan></text>
<text class="T" transform="translate(689,2089.7)rotate(-40)">10<tspan dy="-2" font-size="4">4</tspan></text>
<text class="T" transform="translate(689,2113.6)rotate(-40)">10<tspan dy="-2" font-size="4">3</tspan></text>
<text class="T" transform="translate(689,2137.7)rotate(-40)">10<tspan dy="-2" font-size="4">2</tspan></text>
<text class="T" transform="translate(689,2161.9)rotate(-40)">10<tspan dy="-2" font-size="4">1</tspan></text>
<text class="T" transform="translate(689,2184.7)rotate(-40)">10<tspan dy="-2" font-size="4">5</tspan></text>
<text class="T" transform="translate(689,2208.9)rotate(-40)">10<tspan dy="-2" font-size="4">4</tspan></text>
<text class="T" transform="translate(689,2232.8)rotate(-40)">10<tspan dy="-2" font-size="4">3</tspan></text>
<text class="T" transform="translate(689,2256.9)rotate(-40)">10<tspan dy="-2" font-size="4">2</tspan></text>
<text class="T" transform="translate(689,2281.1)rotate(-40)">10<tspan dy="-2" font-size="4">1</tspan></text>
<text class="T" transform="translate(689,2303.9)rotate(-40)">10<tspan dy="-2" font-size="4">5</tspan></text>
<text class="T" transform="translate(689,2328.1)rotate(-40)">10<tspan dy="-2" font-size="4">4</tspan></text>
<text class="T" transform="translate(689,2352)rotate(-40)">10<tspan dy="-2" font-size="4">3</tspan></text>
<text class="T" transform="translate(689,2376.1)rotate(-40)">10<tspan dy="-2" font-size="4">2</tspan></text>
<text class="T" transform="translate(689,2400.3)rotate(-40)">10<tspan dy="-2" font-size="4">1</tspan></text>
<text class="T" x="710.1" y="2422.2">0</text>
<text class="T" transform="translate(754.6,2418.8)rotate(-40)">10<tspan dy="-2" font-size="4">3</tspan></text>
<text class="T" transform="translate(782.9,2418.8)rotate(-40)">10<tspan dy="-2" font-size="4">4</tspan></text>
<text class="T" transform="translate(810.2,2418.8)rotate(-40)">10<tspan dy="-2" font-size="4">5</tspan></text>
<text class="T" transform="translate(840.3,2065.5)rotate(-40)">10<tspan dy="-2" font-size="4">5</tspan></text>
<text class="T" transform="translate(840.3,2089.7)rotate(-40)">10<tspan dy="-2" font-size="4">4</tspan></text>
<text class="T" transform="translate(840.3,2113.6)rotate(-40)">10<tspan dy="-2" font-size="4">3</tspan></text>
<text class="T" transform="translate(840.3,2137.7)rotate(-40)">10<tspan dy="-2" font-size="4">2</tspan></text>
<text class="T" transform="translate(840.3,2161.9)rotate(-40)">10<tspan dy="-2" font-size="4">1</tspan></text>
<text class="T" transform="translate(840.3,2184.7)rotate(-40)">10<tspan dy="-2" font-size="4">5</tspan></text>
<text class="T" transform="translate(840.3,2208.9)rotate(-40)">10<tspan dy="-2" font-size="4">4</tspan></text>
<text class="T" transform="translate(840.3,2232.8)rotate(-40)">10<tspan dy="-2" font-size="4">3</tspan></text>
<text class="T" transform="translate(840.3,2256.9)rotate(-40)">10<tspan dy="-2" font-size="4">2</tspan></text>
<text class="T" transform="translate(840.3,2281.1)rotate(-40)">10<tspan dy="-2" font-size="4">1</tspan></text>
<text class="T" transform="translate(840.3,2303.9)rotate(-40)">10<tspan dy="-2" font-size="4">5</tspan></text>
<text class="T" transform="translate(840.3,2328.1)rotate(-40)">10<tspan dy="-2" font-size="4">4</tspan></text>
<text class="T" transform="translate(840.3,2352)rotate(-40)">10<tspan dy="-2" font-size="4">3</tspan></text>
<text class="T" transform="translate(840.3,2376.1)rotate(-40)">10<tspan dy="-2" font-size="4">2</tspan></text>
<text class="T" transform="translate(840.3,2400.3)rotate(-40)">10<tspan dy="-2" font-size="4">1</tspan></text>
<text class="T" x="861.4" y="2422.2">0</text>
<text class="T" transform="translate(905.9,2418.8)rotate(-40)">10<tspan dy="-2" font-size="4">3</tspan></text>
<text class="T" transform="translate(934.2,2418.8)rotate(-40)">10<tspan dy="-2" font-size="4">4</tspan></text>
<text class="T" transform="translate(961.5,2418.8)rotate(-40)">10<tspan dy="-2" font-size="4">5</tspan></text>
<text class="T" transform="translate(993.9,2065.5)rotate(-40)">10<tspan dy="-2" font-size="4">5</tspan></text>
<text class="T" transform="translate(993.9,2089.7)rotate(-40)">10<tspan dy="-2" font-size="4">4</tspan></text>
<text class="T" transform="translate(993.9,2113.6)rotate(-40)">10<tspan dy="-2" font-size="4">3</tspan></text>
<text class="T" transform="translate(993.9,2137.7)rotate(-40)">10<tspan dy="-2" font-size="4">2</tspan></text>
<text class="T" transform="translate(993.9,2161.9)rotate(-40)">10<tspan dy="-2" font-size="4">1</tspan></text>
<text class="T" transform="translate(993.9,2184.7)rotate(-40)">10<tspan dy="-2" font-size="4">5</tspan></text>
<text class="T" transform="translate(993.9,2208.9)rotate(-40)">10<tspan dy="-2" font-size="4">4</tspan></text>
<text class="T" transform="translate(993.9,2232.8)rotate(-40)">10<tspan dy="-2" font-size="4">3</tspan></text>
<text class="T" transform="translate(993.9,2256.9)rotate(-40)">10<tspan dy="-2" font-size="4">2</tspan></text>
<text class="T" transform="translate(993.9,2281.1)rotate(-40)">10<tspan dy="-2" font-size="4">1</tspan></text>
<text class="T" transform="translate(993.9,2303.9)rotate(-40)">10<tspan dy="-2" font-size="4">5</tspan></text>
<text class="T" transform="translate(993.9,2328.1)rotate(-40)">10<tspan dy="-2" font-size="4">4</tspan></text>
<text class="T" transform="translate(993.9,2352)rotate(-40)">10<tspan dy="-2" font-size="4">3</tspan></text>
<text class="T" transform="translate(993.9,2376.1)rotate(-40)">10<tspan dy="-2" font-size="4">2</tspan></text>
<text class="T" transform="translate(993.9,2400.3)rotate(-40)">10<tspan dy="-2" font-size="4">1</tspan></text>
<text class="T" x="1015" y="2422.2">0</text>
<text class="T" transform="translate(1059.5,2418.8)rotate(-40)">10<tspan dy="-2" font-size="4">3</tspan></text>
<text class="T" transform="translate(1087.8,2418.8)rotate(-40)">10<tspan dy="-2" font-size="4">4</tspan></text>
<text class="T" transform="translate(1115.1,2418.8)rotate(-40)">10<tspan dy="-2" font-size="4">5</tspan></text>
<text class="T" transform="translate(1146,2065.5)rotate(-40)">10<tspan dy="-2" font-size="4">5</tspan></text>
<text class="T" transform="translate(1146,2089.7)rotate(-40)">10<tspan dy="-2" font-size="4">4</tspan></text>
<text class="T" transform="translate(1146,2113.6)rotate(-40)">10<tspan dy="-2" font-size="4">3</tspan></text>
<text class="T" transform="translate(1146,2137.7)rotate(-40)">10<tspan dy="-2" font-size="4">2</tspan></text>
<text class="T" transform="translate(1146,2161.9)rotate(-40)">10<tspan dy="-2" font-size="4">1</tspan></text>
<text class="T" transform="translate(1146,2184.7)rotate(-40)">10<tspan dy="-2" font-size="4">5</tspan></text>
<text class="T" transform="translate(1146,2208.9)rotate(-40)">10<tspan dy="-2" font-size="4">4</tspan></text>
<text class="T" transform="translate(1146,2232.8)rotate(-40)">10<tspan dy="-2" font-size="4">3</tspan></text>
<text class="T" transform="translate(1146,2256.9)rotate(-40)">10<tspan dy="-2" font-size="4">2</tspan></text>
<text class="T" transform="translate(1146,2281.1)rotate(-40)">10<tspan dy="-2" font-size="4">1</tspan></text>
<text class="T" transform="translate(1146,2303.9)rotate(-40)">10<tspan dy="-2" font-size="4">5</tspan></text>
<text class="T" transform="translate(1146,2328.1)rotate(-40)">10<tspan dy="-2" font-size="4">4</tspan></text>
<text class="T" transform="translate(1146,2352)rotate(-40)">10<tspan dy="-2" font-size="4">3</tspan></text>
<text class="T" transform="translate(1146,2376.1)rotate(-40)">10<tspan dy="-2" font-size="4">2</tspan></text>
<text class="T" transform="translate(1146,2400.3)rotate(-40)">10<tspan dy="-2" font-size="4">1</tspan></text>
<text class="T" x="1167.1" y="2422.2">0</text>
<text class="T" transform="translate(1211.6,2418.8)rotate(-40)">10<tspan dy="-2" font-size="4">3</tspan></text>
<text class="T" transform="translate(1239.9,2418.8)rotate(-40)">10<tspan dy="-2" font-size="4">4</tspan></text>
<text class="T" transform="translate(1267.2,2418.8)rotate(-40)">10<tspan dy="-2" font-size="4">5</tspan></text>
<text class="T" transform="translate(1297.5,2065.5)rotate(-40)">10<tspan dy="-2" font-size="4">5</tspan></text>
<text class="T" transform="translate(1297.5,2089.7)rotate(-40)">10<tspan dy="-2" font-size="4">4</tspan></text>
<text class="T" transform="translate(1297.5,2113.6)rotate(-40)">10<tspan dy="-2" font-size="4">3</tspan></text>
<text class="T" transform="translate(1297.5,2137.7)rotate(-40)">10<tspan dy="-2" font-size="4">2</tspan></text>
<text class="T" transform="translate(1297.5,2161.9)rotate(-40)">10<tspan dy="-2" font-size="4">1</tspan></text>
<text class="T" transform="translate(1297.5,2184.7)rotate(-40)">10<tspan dy="-2" font-size="4">5</tspan></text>
<text class="T" transform="translate(1297.5,2208.9)rotate(-40)">10<tspan dy="-2" font-size="4">4</tspan></text>
<text class="T" transform="translate(1297.5,2232.8)rotate(-40)">10<tspan dy="-2" font-size="4">3</tspan></text>
<text class="T" transform="translate(1297.5,2256.9)rotate(-40)">10<tspan dy="-2" font-size="4">2</tspan></text>
<text class="T" transform="translate(1297.5,2281.1)rotate(-40)">10<tspan dy="-2" font-size="4">1</tspan></text>
<text class="T" transform="translate(1297.5,2303.9)rotate(-40)">10<tspan dy="-2" font-size="4">5</tspan></text>
<text class="T" transform="translate(1297.5,2328.1)rotate(-40)">10<tspan dy="-2" font-size="4">4</tspan></text>
<text class="T" transform="translate(1297.5,2352)rotate(-40)">10<tspan dy="-2" font-size="4">3</tspan></text>
<text class="T" transform="translate(1297.5,2376.1)rotate(-40)">10<tspan dy="-2" font-size="4">2</tspan></text>
<text class="T" transform="translate(1297.5,2400.3)rotate(-40)">10<tspan dy="-2" font-size="4">1</tspan></text>
<text class="T" x="1318.6" y="2422.2">0</text>
<text class="T" transform="translate(1363.1,2418.8)rotate(-40)">10<tspan dy="-2" font-size="4">3</tspan></text>
<text class="T" transform="translate(1391.4,2418.8)rotate(-40)">10<tspan dy="-2" font-size="4">4</tspan></text>
<text class="T" transform="translate(1418.7,2418.8)rotate(-40)">10<tspan dy="-2" font-size="4">5</tspan></text>
<text class="T" transform="translate(1449.9,2065.5)rotate(-40)">10<tspan dy="-2" font-size="4">5</tspan></text>
<text class="T" transform="translate(1449.9,2089.7)rotate(-40)">10<tspan dy="-2" font-size="4">4</tspan></text>
<text class="T" transform="translate(1449.9,2113.6)rotate(-40)">10<tspan dy="-2" font-size="4">3</tspan></text>
<text class="T" transform="translate(1449.9,2137.7)rotate(-40)">10<tspan dy="-2" font-size="4">2</tspan></text>
<text class="T" transform="translate(1449.9,2161.9)rotate(-40)">10<tspan dy="-2" font-size="4">1</tspan></text>
<text class="T" transform="translate(1449.9,2184.7)rotate(-40)">10<tspan dy="-2" font-size="4">5</tspan></text>
<text class="T" transform="translate(1449.9,2208.9)rotate(-40)">10<tspan dy="-2" font-size="4">4</tspan></text>
<text class="T" transform="translate(1449.9,2232.8)rotate(-40)">10<tspan dy="-2" font-size="4">3</tspan></text>
<text class="T" transform="translate(1449.9,2256.9)rotate(-40)">10<tspan dy="-2" font-size="4">2</tspan></text>
<text class="T" transform="translate(1449.9,2281.1)rotate(-40)">10<tspan dy="-2" font-size="4">1</tspan></text>
<text class="T" transform="translate(1449.9,2303.9)rotate(-40)">10<tspan dy="-2" font-size="4">5</tspan></text>
<text class="T" transform="translate(1449.9,2328.1)rotate(-40)">10<tspan dy="-2" font-size="4">4</tspan></text>
<text class="T" transform="translate(1449.9,2352)rotate(-40)">10<tspan dy="-2" font-size="4">3</tspan></text>
<text class="T" transform="translate(1449.9,2376.1)rotate(-40)">10<tspan dy="-2" font-size="4">2</tspan></text>
<text class="T" transform="translate(1449.9,2400.3)rotate(-40)">10<tspan dy="-2" font-size="4">1</tspan></text>
<text class="T" x="1471" y="2422.2">0</text>
<text class="T" transform="translate(1515.5,2418.8)rotate(-40)">10<tspan dy="-2" font-size="4">3</tspan></text>
<text class="T" transform="translate(1543.8,2418.8)rotate(-40)">10<tspan dy="-2" font-size="4">4</tspan></text>
<text class="T" transform="translate(1571.1,2418.8)rotate(-40)">10<tspan dy="-2" font-size="4">5</tspan></text>
<text class="T" transform="translate(1601,2065.5)rotate(-40)">10<tspan dy="-2" font-size="4">5</tspan></text>
<text class="T" transform="translate(1601,2089.7)rotate(-40)">10<tspan dy="-2" font-size="4">4</tspan></text>
<text class="T" transform="translate(1601,2113.6)rotate(-40)">10<tspan dy="-2" font-size="4">3</tspan></text>
<text class="T" transform="translate(1601,2137.7)rotate(-40)">10<tspan dy="-2" font-size="4">2</tspan></text>
<text class="T" transform="translate(1601,2161.9)rotate(-40)">10<tspan dy="-2" font-size="4">1</tspan></text>
<text class="T" transform="translate(1601,2184.7)rotate(-40)">10<tspan dy="-2" font-size="4">5</tspan></text>
<text class="T" transform="translate(1601,2208.9)rotate(-40)">10<tspan dy="-2" font-size="4">4</tspan></text>
<text class="T" transform="translate(1601,2232.8)rotate(-40)">10<tspan dy="-2" font-size="4">3</tspan></text>
<text class="T" transform="translate(1601,2256.9)rotate(-40)">10<tspan dy="-2" font-size="4">2</tspan></text>
<text class="T" transform="translate(1601,2281.1)rotate(-40)">10<tspan dy="-2" font-size="4">1</tspan></text>
<text class="T" transform="translate(1601,2303.9)rotate(-40)">10<tspan dy="-2" font-size="4">5</tspan></text>
<text class="T" transform="translate(1601,2328.1)rotate(-40)">10<tspan dy="-2" font-size="4">4</tspan></text>
<text class="T" transform="translate(1601,2352)rotate(-40)">10<tspan dy="-2" font-size="4">3</tspan></text>
<text class="T" transform="translate(1601,2376.1)rotate(-40)">10<tspan dy="-2" font-size="4">2</tspan></text>
<text class="T" transform="translate(1601,2400.3)rotate(-40)">10<tspan dy="-2" font-size="4">1</tspan></text>
<text class="T" x="1622.1" y="2422.2">0</text>
<text class="T" transform="translate(1666.6,2418.8)rotate(-40)">10<tspan dy="-2" font-size="4">3</tspan></text>
<text class="T" transform="translate(1694.9,2418.8)rotate(-40)">10<tspan dy="-2" font-size="4">4</tspan></text>
<text class="T" transform="translate(1722.2,2418.8)rotate(-40)">10<tspan dy="-2" font-size="4">5</tspan></text>
<text class="T" transform="translate(1752.7,2065.5)rotate(-40)">10<tspan dy="-2" font-size="4">5</tspan></text>
<text class="T" transform="translate(1752.7,2089.7)rotate(-40)">10<tspan dy="-2" font-size="4">4</tspan></text>
<text class="T" transform="translate(1752.7,2113.6)rotate(-40)">10<tspan dy="-2" font-size="4">3</tspan></text>
<text class="T" transform="translate(1752.7,2137.7)rotate(-40)">10<tspan dy="-2" font-size="4">2</tspan></text>
<text class="T" transform="translate(1752.7,2161.9)rotate(-40)">10<tspan dy="-2" font-size="4">1</tspan></text>
<text class="T" transform="translate(1752.7,2184.7)rotate(-40)">10<tspan dy="-2" font-size="4">5</tspan></text>
<text class="T" transform="translate(1752.7,2208.9)rotate(-40)">10<tspan dy="-2" font-size="4">4</tspan></text>
<text class="T" transform="translate(1752.7,2232.8)rotate(-40)">10<tspan dy="-2" font-size="4">3</tspan></text>
<text class="T" transform="translate(1752.7,2256.9)rotate(-40)">10<tspan dy="-2" font-size="4">2</tspan></text>
<text class="T" transform="translate(1752.7,2281.1)rotate(-40)">10<tspan dy="-2" font-size="4">1</tspan></text>
<text class="T" transform="translate(1752.7,2303.9)rotate(-40)">10<tspan dy="-2" font-size="4">5</tspan></text>
<text class="T" transform="translate(1752.7,2328.1)rotate(-40)">10<tspan dy="-2" font-size="4">4</tspan></text>
<text class="T" transform="translate(1752.7,2352)rotate(-40)">10<tspan dy="-2" font-size="4">3</tspan></text>
<text class="T" transform="translate(1752.7,2376.1)rotate(-40)">10<tspan dy="-2" font-size="4">2</tspan></text>
<text class="T" transform="translate(1752.7,2400.3)rotate(-40)">10<tspan dy="-2" font-size="4">1</tspan></text>
<text class="T" x="1773.8" y="2422.2">0</text>
<text class="T" transform="translate(1818.3,2418.8)rotate(-40)">10<tspan dy="-2" font-size="4">3</tspan></text>
<text class="T" transform="translate(1846.6,2418.8)rotate(-40)">10<tspan dy="-2" font-size="4">4</tspan></text>
<text class="T" transform="translate(1873.9,2418.8)rotate(-40)">10<tspan dy="-2" font-size="4">5</tspan></text>
<text class="R" x="573.3" y="694.7" font-size="31" text-anchor="middle">anti-</text>
<text class="R" x="572.9" y="732.2" font-size="31" text-anchor="middle">LILRB1</text>
<text class="R" x="720.6" y="710.6" font-size="31" text-anchor="middle">PBS</text>
<text class="H" x="873.6" y="712.8">0.1</text>
<text class="H" x="1030" y="713.5">0.3</text>
<text class="H" x="1181.3" y="714">1.0</text>
<text class="H" x="1336" y="714.3">3.0</text>
<text class="H" x="1486.2" y="714.6">10</text>
<text class="H" x="1639.4" y="714.9">30</text>
<path d="M836.7,670.8H1678.4M105.8,1608.4H946.7M1018.8,1604.9H1860.6" stroke="#000" stroke-width="6.2"/>
<text class="R" x="1057.2" y="647.5" font-size="42.5">RIFIN(C223S)<tspan font-size="38.5" dx="-6.5"> (µg mL</tspan><tspan font-size="25" dy="-14">-1</tspan><tspan font-size="38.5" dy="14">)</tspan></text>
<text class="H" x="143" y="1650.8">0.1</text>
<text class="H" x="298.9" y="1651">0.3</text>
<text class="H" x="450.7" y="1651.2">1.0</text>
<text class="H" x="605" y="1651.7">3.0</text>
<text class="H" x="756" y="1653">10</text>
<text class="H" x="908.3" y="1654">30</text>
<text class="R" x="248.1" y="1583.4" font-size="41.9">RIFIN(C223S/G234R)<tspan font-size="38.5" dx="-4.5"> (µg mL</tspan><tspan font-size="25" dy="-14">-1</tspan><tspan font-size="38.5" dy="14">)</tspan></text>
<text class="H" x="1055.2" y="1647">0.1</text>
<text class="H" x="1212" y="1649">0.3</text>
<text class="H" x="1363.8" y="1649.3">1.0</text>
<text class="H" x="1517.4" y="1649.6">3.0</text>
<text class="H" x="1668.7" y="1650.5">10</text>
<text class="H" x="1820.5" y="1651">30</text>
<text class="R" x="1213.3" y="1580.4" font-size="38">PF3D7_1254200 (µg mL<tspan font-size="25" dy="-14">-1</tspan><tspan dy="14">)</tspan></text>
<text class="R" transform="translate(450.4,1091.7) rotate(-90)" font-size="34.4">Control reporter cells</text>
<text class="R" transform="translate(450.9,1461.8) rotate(-90)" font-size="34.3">LILRB1 reporter cells</text>
<text class="R" transform="translate(26.6,2018.4) rotate(-90)" font-size="34.4">Control reporter cells</text>
<text class="R" transform="translate(27,2389) rotate(-90)" font-size="34.3">LILRB1 reporter cells</text>
<path d="M472,791.7V1070.4M472,1159.8V1438.5M48.2,1718.8V1997.6M48.1,2087.1V2365.5" stroke="#000" stroke-width="6.1"/>
<path d="M186.8,1281V1410H312" fill="none" stroke="#000" stroke-width="6.2"/>
<path d="M175.7,1282.4L186.3,1262.6L196.8,1282.4ZM309.7,1400.3L328.3,1410.1L309.7,1420Z" fill="#000"/>
<text class="R" transform="translate(170.4,1387.6) rotate(-90)" font-size="41.3">SSC</text>
<text class="R" x="211.6" y="1452.6" font-size="41.5">GFP</text>
</svg></body></html>
